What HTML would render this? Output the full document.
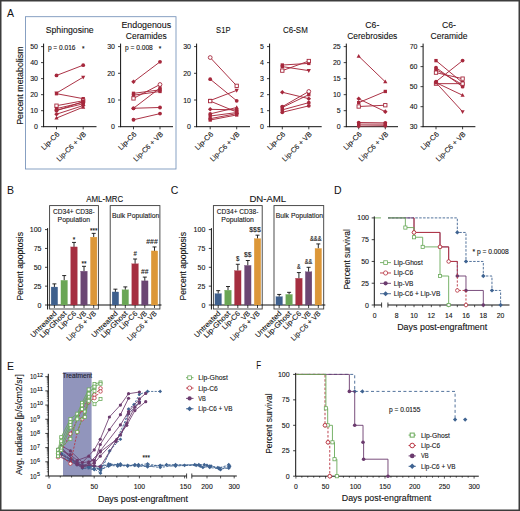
<!DOCTYPE html>
<html><head><meta charset="utf-8"><style>
html,body{margin:0;padding:0;background:#fff;}
svg{display:block;font-family:"Liberation Sans", sans-serif;}
</style></head><body>
<svg width="520" height="511" viewBox="0 0 520 511">
<rect x="0" y="0" width="520" height="511" fill="#fff"/>
<text x="7.00" y="16.60" font-size="10.5" text-anchor="start" fill="#111111">A</text>
<rect x="25.50" y="16.70" width="150.50" height="152.30" fill="none" stroke="#7390b8" stroke-width="0.85"/>
<text x="22.70" y="85.60" font-size="8.2" text-anchor="middle" fill="#111111" textLength="78.50" lengthAdjust="spacingAndGlyphs" transform="rotate(-90 22.70 85.60)" stroke="#111111" stroke-width="0.1">Percent metabolism</text>
<text x="69.70" y="32.70" font-size="9.7" text-anchor="middle" fill="#111111" textLength="48.00" lengthAdjust="spacingAndGlyphs" stroke="#111111" stroke-width="0.1">Sphingosine</text>
<line x1="43.60" y1="43.60" x2="43.60" y2="127.10" stroke="#111111" stroke-width="1.0"/>
<line x1="43.10" y1="126.70" x2="96.50" y2="126.70" stroke="#111111" stroke-width="1.0"/>
<line x1="41.00" y1="126.70" x2="43.60" y2="126.70" stroke="#111111" stroke-width="0.8"/>
<text x="38.00" y="129.20" font-size="7.0" text-anchor="end" fill="#111111" stroke="#111111" stroke-width="0.1">0</text>
<line x1="41.00" y1="110.68" x2="43.60" y2="110.68" stroke="#111111" stroke-width="0.8"/>
<text x="38.00" y="113.18" font-size="7.0" text-anchor="end" fill="#111111" stroke="#111111" stroke-width="0.1">10</text>
<line x1="41.00" y1="94.66" x2="43.60" y2="94.66" stroke="#111111" stroke-width="0.8"/>
<text x="38.00" y="97.16" font-size="7.0" text-anchor="end" fill="#111111" stroke="#111111" stroke-width="0.1">20</text>
<line x1="41.00" y1="78.64" x2="43.60" y2="78.64" stroke="#111111" stroke-width="0.8"/>
<text x="38.00" y="81.14" font-size="7.0" text-anchor="end" fill="#111111" stroke="#111111" stroke-width="0.1">30</text>
<line x1="41.00" y1="62.62" x2="43.60" y2="62.62" stroke="#111111" stroke-width="0.8"/>
<text x="38.00" y="65.12" font-size="7.0" text-anchor="end" fill="#111111" stroke="#111111" stroke-width="0.1">40</text>
<line x1="41.00" y1="46.60" x2="43.60" y2="46.60" stroke="#111111" stroke-width="0.8"/>
<text x="38.00" y="49.10" font-size="7.0" text-anchor="end" fill="#111111" stroke="#111111" stroke-width="0.1">50</text>
<line x1="56.50" y1="126.70" x2="56.50" y2="129.30" stroke="#111111" stroke-width="0.8"/>
<line x1="83.20" y1="126.70" x2="83.20" y2="129.30" stroke="#111111" stroke-width="0.8"/>
<text x="60.00" y="134.70" font-size="7.2" text-anchor="end" fill="#111111" textLength="22.50" lengthAdjust="spacingAndGlyphs" transform="rotate(-45 60.00 134.70)" stroke="#111111" stroke-width="0.1">Lip-C6</text>
<text x="86.70" y="134.70" font-size="7.2" text-anchor="end" fill="#111111" textLength="38.50" lengthAdjust="spacingAndGlyphs" transform="rotate(-45 86.70 134.70)" stroke="#111111" stroke-width="0.1">Lip-C6 + VB</text>
<text x="47.90" y="49.60" font-size="6.3" text-anchor="start" fill="#111111" textLength="27.60" lengthAdjust="spacingAndGlyphs" stroke="#111111" stroke-width="0.1">p = 0.016</text>
<text x="83.20" y="50.80" font-size="6.5" text-anchor="middle" fill="#111111" stroke="#111111" stroke-width="0.1">*</text>
<line x1="56.50" y1="75.44" x2="83.20" y2="65.18" stroke="#a6283c" stroke-width="0.95"/>
<line x1="56.50" y1="93.06" x2="83.20" y2="77.20" stroke="#a6283c" stroke-width="0.95"/>
<line x1="56.50" y1="93.70" x2="83.20" y2="98.67" stroke="#a6283c" stroke-width="0.95"/>
<line x1="56.50" y1="105.71" x2="83.20" y2="100.75" stroke="#a6283c" stroke-width="0.95"/>
<line x1="56.50" y1="108.60" x2="83.20" y2="102.35" stroke="#a6283c" stroke-width="0.95"/>
<line x1="56.50" y1="110.20" x2="83.20" y2="103.79" stroke="#a6283c" stroke-width="0.95"/>
<line x1="56.50" y1="114.20" x2="83.20" y2="105.55" stroke="#a6283c" stroke-width="0.95"/>
<line x1="56.50" y1="118.05" x2="83.20" y2="107.16" stroke="#a6283c" stroke-width="0.95"/>
<line x1="56.50" y1="110.68" x2="83.20" y2="101.55" stroke="#a6283c" stroke-width="0.95"/>
<circle cx="56.50" cy="75.44" r="1.9" fill="#a6283c"/>
<circle cx="83.20" cy="65.18" r="1.9" fill="#a6283c"/>
<polygon points="56.50,95.34 58.59,91.54 54.41,91.54" fill="#a6283c"/>
<polygon points="83.20,79.48 85.29,75.68 81.11,75.68" fill="#a6283c"/>
<rect x="54.83" y="92.03" width="3.34" height="3.34" fill="#a6283c"/>
<rect x="81.53" y="96.99" width="3.34" height="3.34" fill="#a6283c"/>
<rect x="54.83" y="104.04" width="3.34" height="3.34" fill="#fff" stroke="#a6283c" stroke-width="0.9"/>
<rect x="81.53" y="99.08" width="3.34" height="3.34" fill="#fff" stroke="#a6283c" stroke-width="0.9"/>
<rect x="54.83" y="106.93" width="3.34" height="3.34" fill="#a6283c"/>
<rect x="81.53" y="100.68" width="3.34" height="3.34" fill="#a6283c"/>
<circle cx="56.50" cy="110.20" r="1.9" fill="#a6283c"/>
<circle cx="83.20" cy="103.79" r="1.9" fill="#a6283c"/>
<polygon points="56.50,111.92 58.78,114.20 56.50,116.48 54.22,114.20" fill="#a6283c"/>
<polygon points="83.20,103.27 85.48,105.55 83.20,107.83 80.92,105.55" fill="#a6283c"/>
<polygon points="56.50,115.77 58.59,119.57 54.41,119.57" fill="#a6283c"/>
<polygon points="83.20,104.88 85.29,108.68 81.11,108.68" fill="#a6283c"/>
<rect x="54.83" y="109.01" width="3.34" height="3.34" fill="#a6283c"/>
<rect x="81.53" y="99.88" width="3.34" height="3.34" fill="#a6283c"/>
<text x="146.30" y="27.50" font-size="9.7" text-anchor="middle" fill="#111111" textLength="49.70" lengthAdjust="spacingAndGlyphs" stroke="#111111" stroke-width="0.1">Endogenous</text>
<text x="146.30" y="38.50" font-size="9.7" text-anchor="middle" fill="#111111" textLength="41.00" lengthAdjust="spacingAndGlyphs" stroke="#111111" stroke-width="0.1">Ceramides</text>
<line x1="120.60" y1="43.60" x2="120.60" y2="127.10" stroke="#111111" stroke-width="1.0"/>
<line x1="120.10" y1="126.70" x2="173.00" y2="126.70" stroke="#111111" stroke-width="1.0"/>
<line x1="118.00" y1="126.70" x2="120.60" y2="126.70" stroke="#111111" stroke-width="0.8"/>
<text x="115.00" y="129.20" font-size="7.0" text-anchor="end" fill="#111111" stroke="#111111" stroke-width="0.1">0</text>
<line x1="118.00" y1="100.00" x2="120.60" y2="100.00" stroke="#111111" stroke-width="0.8"/>
<text x="115.00" y="102.50" font-size="7.0" text-anchor="end" fill="#111111" stroke="#111111" stroke-width="0.1">10</text>
<line x1="118.00" y1="73.30" x2="120.60" y2="73.30" stroke="#111111" stroke-width="0.8"/>
<text x="115.00" y="75.80" font-size="7.0" text-anchor="end" fill="#111111" stroke="#111111" stroke-width="0.1">20</text>
<line x1="118.00" y1="46.60" x2="120.60" y2="46.60" stroke="#111111" stroke-width="0.8"/>
<text x="115.00" y="49.10" font-size="7.0" text-anchor="end" fill="#111111" stroke="#111111" stroke-width="0.1">30</text>
<line x1="133.50" y1="126.70" x2="133.50" y2="129.30" stroke="#111111" stroke-width="0.8"/>
<line x1="160.00" y1="126.70" x2="160.00" y2="129.30" stroke="#111111" stroke-width="0.8"/>
<text x="137.00" y="134.70" font-size="7.2" text-anchor="end" fill="#111111" textLength="22.50" lengthAdjust="spacingAndGlyphs" transform="rotate(-45 137.00 134.70)" stroke="#111111" stroke-width="0.1">Lip-C6</text>
<text x="163.50" y="134.70" font-size="7.2" text-anchor="end" fill="#111111" textLength="38.50" lengthAdjust="spacingAndGlyphs" transform="rotate(-45 163.50 134.70)" stroke="#111111" stroke-width="0.1">Lip-C6 + VB</text>
<text x="125.00" y="49.60" font-size="6.3" text-anchor="start" fill="#111111" textLength="27.80" lengthAdjust="spacingAndGlyphs" stroke="#111111" stroke-width="0.1">p = 0.008</text>
<text x="160.00" y="50.80" font-size="6.5" text-anchor="middle" fill="#111111" stroke="#111111" stroke-width="0.1">*</text>
<line x1="133.50" y1="81.84" x2="160.00" y2="61.82" stroke="#a6283c" stroke-width="0.95"/>
<line x1="133.50" y1="93.33" x2="160.00" y2="89.85" stroke="#a6283c" stroke-width="0.95"/>
<line x1="133.50" y1="95.19" x2="160.00" y2="91.46" stroke="#a6283c" stroke-width="0.95"/>
<line x1="133.50" y1="98.40" x2="160.00" y2="84.51" stroke="#a6283c" stroke-width="0.95"/>
<line x1="133.50" y1="108.28" x2="160.00" y2="87.99" stroke="#a6283c" stroke-width="0.95"/>
<line x1="133.50" y1="108.28" x2="160.00" y2="107.48" stroke="#a6283c" stroke-width="0.95"/>
<line x1="133.50" y1="119.76" x2="160.00" y2="113.62" stroke="#a6283c" stroke-width="0.95"/>
<polygon points="133.50,79.56 135.78,81.84 133.50,84.12 131.22,81.84" fill="#a6283c"/>
<circle cx="160.00" cy="61.82" r="1.9" fill="#a6283c"/>
<rect x="131.83" y="91.65" width="3.34" height="3.34" fill="#a6283c"/>
<rect x="158.33" y="88.18" width="3.34" height="3.34" fill="#a6283c"/>
<rect x="131.83" y="93.52" width="3.34" height="3.34" fill="#a6283c"/>
<rect x="158.33" y="89.78" width="3.34" height="3.34" fill="#a6283c"/>
<rect x="131.83" y="96.73" width="3.34" height="3.34" fill="#fff" stroke="#a6283c" stroke-width="0.9"/>
<circle cx="160.00" cy="84.51" r="1.9" fill="#fff" stroke="#a6283c" stroke-width="0.9"/>
<circle cx="133.50" cy="108.28" r="1.9" fill="#a6283c"/>
<rect x="158.33" y="86.31" width="3.34" height="3.34" fill="#a6283c"/>
<circle cx="133.50" cy="108.28" r="1.9" fill="#a6283c"/>
<circle cx="160.00" cy="107.48" r="1.9" fill="#a6283c"/>
<circle cx="133.50" cy="119.76" r="1.9" fill="#a6283c"/>
<circle cx="160.00" cy="113.62" r="1.9" fill="#a6283c"/>
<text x="223.30" y="32.70" font-size="9.7" text-anchor="middle" fill="#111111" textLength="14.40" lengthAdjust="spacingAndGlyphs" stroke="#111111" stroke-width="0.1">S1P</text>
<line x1="196.60" y1="43.60" x2="196.60" y2="127.10" stroke="#111111" stroke-width="1.0"/>
<line x1="196.10" y1="126.70" x2="250.00" y2="126.70" stroke="#111111" stroke-width="1.0"/>
<line x1="194.00" y1="126.70" x2="196.60" y2="126.70" stroke="#111111" stroke-width="0.8"/>
<text x="191.00" y="129.20" font-size="7.0" text-anchor="end" fill="#111111" stroke="#111111" stroke-width="0.1">0</text>
<line x1="194.00" y1="100.00" x2="196.60" y2="100.00" stroke="#111111" stroke-width="0.8"/>
<text x="191.00" y="102.50" font-size="7.0" text-anchor="end" fill="#111111" stroke="#111111" stroke-width="0.1">10</text>
<line x1="194.00" y1="73.30" x2="196.60" y2="73.30" stroke="#111111" stroke-width="0.8"/>
<text x="191.00" y="75.80" font-size="7.0" text-anchor="end" fill="#111111" stroke="#111111" stroke-width="0.1">20</text>
<line x1="194.00" y1="46.60" x2="196.60" y2="46.60" stroke="#111111" stroke-width="0.8"/>
<text x="191.00" y="49.10" font-size="7.0" text-anchor="end" fill="#111111" stroke="#111111" stroke-width="0.1">30</text>
<line x1="210.20" y1="126.70" x2="210.20" y2="129.30" stroke="#111111" stroke-width="0.8"/>
<line x1="236.70" y1="126.70" x2="236.70" y2="129.30" stroke="#111111" stroke-width="0.8"/>
<text x="213.70" y="134.70" font-size="7.2" text-anchor="end" fill="#111111" textLength="22.50" lengthAdjust="spacingAndGlyphs" transform="rotate(-45 213.70 134.70)" stroke="#111111" stroke-width="0.1">Lip-C6</text>
<text x="240.20" y="134.70" font-size="7.2" text-anchor="end" fill="#111111" textLength="38.50" lengthAdjust="spacingAndGlyphs" transform="rotate(-45 240.20 134.70)" stroke="#111111" stroke-width="0.1">Lip-C6 + VB</text>
<line x1="210.20" y1="57.55" x2="236.70" y2="85.85" stroke="#a6283c" stroke-width="0.95"/>
<line x1="210.20" y1="79.17" x2="236.70" y2="100.80" stroke="#a6283c" stroke-width="0.95"/>
<line x1="210.20" y1="100.53" x2="236.70" y2="90.39" stroke="#a6283c" stroke-width="0.95"/>
<line x1="210.20" y1="101.07" x2="236.70" y2="112.02" stroke="#a6283c" stroke-width="0.95"/>
<line x1="210.20" y1="109.34" x2="236.70" y2="109.88" stroke="#a6283c" stroke-width="0.95"/>
<line x1="210.20" y1="113.88" x2="236.70" y2="107.48" stroke="#a6283c" stroke-width="0.95"/>
<line x1="210.20" y1="116.02" x2="236.70" y2="112.55" stroke="#a6283c" stroke-width="0.95"/>
<line x1="210.20" y1="118.69" x2="236.70" y2="113.62" stroke="#a6283c" stroke-width="0.95"/>
<line x1="210.20" y1="120.03" x2="236.70" y2="114.95" stroke="#a6283c" stroke-width="0.95"/>
<circle cx="210.20" cy="57.55" r="1.9" fill="#fff" stroke="#a6283c" stroke-width="0.9"/>
<rect x="235.03" y="84.18" width="3.34" height="3.34" fill="#fff" stroke="#a6283c" stroke-width="0.9"/>
<circle cx="210.20" cy="79.17" r="1.9" fill="#a6283c"/>
<circle cx="236.70" cy="100.80" r="1.9" fill="#a6283c"/>
<rect x="208.53" y="98.86" width="3.34" height="3.34" fill="#a6283c"/>
<polygon points="236.70,92.67 238.79,88.87 234.61,88.87" fill="#a6283c"/>
<rect x="208.53" y="99.40" width="3.34" height="3.34" fill="#fff" stroke="#a6283c" stroke-width="0.9"/>
<rect x="235.03" y="110.34" width="3.34" height="3.34" fill="#a6283c"/>
<polygon points="210.20,107.06 212.48,109.34 210.20,111.62 207.92,109.34" fill="#a6283c"/>
<polygon points="236.70,107.60 238.98,109.88 236.70,112.16 234.42,109.88" fill="#a6283c"/>
<circle cx="210.20" cy="113.88" r="1.9" fill="#a6283c"/>
<polygon points="236.70,105.20 238.79,109.00 234.61,109.00" fill="#a6283c"/>
<rect x="208.53" y="114.35" width="3.34" height="3.34" fill="#a6283c"/>
<rect x="235.03" y="110.88" width="3.34" height="3.34" fill="#a6283c"/>
<circle cx="210.20" cy="118.69" r="1.9" fill="#a6283c"/>
<circle cx="236.70" cy="113.62" r="1.9" fill="#a6283c"/>
<rect x="208.53" y="118.35" width="3.34" height="3.34" fill="#a6283c"/>
<rect x="235.03" y="113.28" width="3.34" height="3.34" fill="#a6283c"/>
<text x="295.40" y="32.70" font-size="9.7" text-anchor="middle" fill="#111111" textLength="24.70" lengthAdjust="spacingAndGlyphs" stroke="#111111" stroke-width="0.1">C6-SM</text>
<line x1="269.60" y1="43.60" x2="269.60" y2="127.10" stroke="#111111" stroke-width="1.0"/>
<line x1="269.10" y1="126.70" x2="321.70" y2="126.70" stroke="#111111" stroke-width="1.0"/>
<line x1="267.00" y1="126.70" x2="269.60" y2="126.70" stroke="#111111" stroke-width="0.8"/>
<text x="264.00" y="129.20" font-size="7.0" text-anchor="end" fill="#111111" stroke="#111111" stroke-width="0.1">0</text>
<line x1="267.00" y1="110.68" x2="269.60" y2="110.68" stroke="#111111" stroke-width="0.8"/>
<text x="264.00" y="113.18" font-size="7.0" text-anchor="end" fill="#111111" stroke="#111111" stroke-width="0.1">1</text>
<line x1="267.00" y1="94.66" x2="269.60" y2="94.66" stroke="#111111" stroke-width="0.8"/>
<text x="264.00" y="97.16" font-size="7.0" text-anchor="end" fill="#111111" stroke="#111111" stroke-width="0.1">2</text>
<line x1="267.00" y1="78.64" x2="269.60" y2="78.64" stroke="#111111" stroke-width="0.8"/>
<text x="264.00" y="81.14" font-size="7.0" text-anchor="end" fill="#111111" stroke="#111111" stroke-width="0.1">3</text>
<line x1="267.00" y1="62.62" x2="269.60" y2="62.62" stroke="#111111" stroke-width="0.8"/>
<text x="264.00" y="65.12" font-size="7.0" text-anchor="end" fill="#111111" stroke="#111111" stroke-width="0.1">4</text>
<line x1="267.00" y1="46.60" x2="269.60" y2="46.60" stroke="#111111" stroke-width="0.8"/>
<text x="264.00" y="49.10" font-size="7.0" text-anchor="end" fill="#111111" stroke="#111111" stroke-width="0.1">5</text>
<line x1="282.30" y1="126.70" x2="282.30" y2="129.30" stroke="#111111" stroke-width="0.8"/>
<line x1="308.80" y1="126.70" x2="308.80" y2="129.30" stroke="#111111" stroke-width="0.8"/>
<text x="285.80" y="134.70" font-size="7.2" text-anchor="end" fill="#111111" textLength="22.50" lengthAdjust="spacingAndGlyphs" transform="rotate(-45 285.80 134.70)" stroke="#111111" stroke-width="0.1">Lip-C6</text>
<text x="312.30" y="134.70" font-size="7.2" text-anchor="end" fill="#111111" textLength="38.50" lengthAdjust="spacingAndGlyphs" transform="rotate(-45 312.30 134.70)" stroke="#111111" stroke-width="0.1">Lip-C6 + VB</text>
<line x1="282.30" y1="65.02" x2="308.80" y2="63.42" stroke="#a6283c" stroke-width="0.95"/>
<line x1="282.30" y1="66.62" x2="308.80" y2="70.63" stroke="#a6283c" stroke-width="0.95"/>
<line x1="282.30" y1="70.63" x2="308.80" y2="61.02" stroke="#a6283c" stroke-width="0.95"/>
<line x1="282.30" y1="92.26" x2="308.80" y2="98.67" stroke="#a6283c" stroke-width="0.95"/>
<line x1="282.30" y1="106.68" x2="308.80" y2="91.46" stroke="#a6283c" stroke-width="0.95"/>
<line x1="282.30" y1="107.48" x2="308.80" y2="94.66" stroke="#a6283c" stroke-width="0.95"/>
<line x1="282.30" y1="109.88" x2="308.80" y2="102.67" stroke="#a6283c" stroke-width="0.95"/>
<line x1="282.30" y1="112.28" x2="308.80" y2="105.87" stroke="#a6283c" stroke-width="0.95"/>
<rect x="280.63" y="63.35" width="3.34" height="3.34" fill="#a6283c"/>
<rect x="307.13" y="61.75" width="3.34" height="3.34" fill="#a6283c"/>
<rect x="280.63" y="64.95" width="3.34" height="3.34" fill="#a6283c"/>
<polygon points="308.80,72.91 310.89,69.11 306.71,69.11" fill="#a6283c"/>
<rect x="280.63" y="68.96" width="3.34" height="3.34" fill="#fff" stroke="#a6283c" stroke-width="0.9"/>
<rect x="307.13" y="59.35" width="3.34" height="3.34" fill="#fff" stroke="#a6283c" stroke-width="0.9"/>
<polygon points="282.30,89.98 284.58,92.26 282.30,94.54 280.02,92.26" fill="#a6283c"/>
<polygon points="308.80,96.39 311.08,98.67 308.80,100.95 306.52,98.67" fill="#a6283c"/>
<circle cx="282.30" cy="106.68" r="1.9" fill="#a6283c"/>
<circle cx="308.80" cy="91.46" r="1.9" fill="#fff" stroke="#a6283c" stroke-width="0.9"/>
<rect x="280.63" y="105.80" width="3.34" height="3.34" fill="#a6283c"/>
<rect x="307.13" y="92.99" width="3.34" height="3.34" fill="#a6283c"/>
<circle cx="282.30" cy="109.88" r="1.9" fill="#a6283c"/>
<circle cx="308.80" cy="102.67" r="1.9" fill="#a6283c"/>
<circle cx="282.30" cy="112.28" r="1.9" fill="#a6283c"/>
<circle cx="308.80" cy="105.87" r="1.9" fill="#a6283c"/>
<text x="372.30" y="27.50" font-size="9.7" text-anchor="middle" fill="#111111" textLength="14.00" lengthAdjust="spacingAndGlyphs" stroke="#111111" stroke-width="0.1">C6-</text>
<text x="372.30" y="38.50" font-size="9.7" text-anchor="middle" fill="#111111" textLength="50.00" lengthAdjust="spacingAndGlyphs" stroke="#111111" stroke-width="0.1">Cerebrosides</text>
<line x1="346.30" y1="43.60" x2="346.30" y2="127.10" stroke="#111111" stroke-width="1.0"/>
<line x1="345.80" y1="126.70" x2="398.00" y2="126.70" stroke="#111111" stroke-width="1.0"/>
<line x1="343.70" y1="126.70" x2="346.30" y2="126.70" stroke="#111111" stroke-width="0.8"/>
<text x="340.70" y="129.20" font-size="7.0" text-anchor="end" fill="#111111" stroke="#111111" stroke-width="0.1">0</text>
<line x1="343.70" y1="110.68" x2="346.30" y2="110.68" stroke="#111111" stroke-width="0.8"/>
<text x="340.70" y="113.18" font-size="7.0" text-anchor="end" fill="#111111" stroke="#111111" stroke-width="0.1">5</text>
<line x1="343.70" y1="94.66" x2="346.30" y2="94.66" stroke="#111111" stroke-width="0.8"/>
<text x="340.70" y="97.16" font-size="7.0" text-anchor="end" fill="#111111" stroke="#111111" stroke-width="0.1">10</text>
<line x1="343.70" y1="78.64" x2="346.30" y2="78.64" stroke="#111111" stroke-width="0.8"/>
<text x="340.70" y="81.14" font-size="7.0" text-anchor="end" fill="#111111" stroke="#111111" stroke-width="0.1">15</text>
<line x1="343.70" y1="62.62" x2="346.30" y2="62.62" stroke="#111111" stroke-width="0.8"/>
<text x="340.70" y="65.12" font-size="7.0" text-anchor="end" fill="#111111" stroke="#111111" stroke-width="0.1">20</text>
<line x1="343.70" y1="46.60" x2="346.30" y2="46.60" stroke="#111111" stroke-width="0.8"/>
<text x="340.70" y="49.10" font-size="7.0" text-anchor="end" fill="#111111" stroke="#111111" stroke-width="0.1">25</text>
<line x1="358.70" y1="126.70" x2="358.70" y2="129.30" stroke="#111111" stroke-width="0.8"/>
<line x1="385.30" y1="126.70" x2="385.30" y2="129.30" stroke="#111111" stroke-width="0.8"/>
<text x="362.20" y="134.70" font-size="7.2" text-anchor="end" fill="#111111" textLength="22.50" lengthAdjust="spacingAndGlyphs" transform="rotate(-45 362.20 134.70)" stroke="#111111" stroke-width="0.1">Lip-C6</text>
<text x="388.80" y="134.70" font-size="7.2" text-anchor="end" fill="#111111" textLength="38.50" lengthAdjust="spacingAndGlyphs" transform="rotate(-45 388.80 134.70)" stroke="#111111" stroke-width="0.1">Lip-C6 + VB</text>
<line x1="358.70" y1="56.21" x2="385.30" y2="81.84" stroke="#a6283c" stroke-width="0.95"/>
<line x1="358.70" y1="98.83" x2="385.30" y2="111.64" stroke="#a6283c" stroke-width="0.95"/>
<line x1="358.70" y1="102.67" x2="385.30" y2="91.46" stroke="#a6283c" stroke-width="0.95"/>
<line x1="358.70" y1="106.51" x2="385.30" y2="105.23" stroke="#a6283c" stroke-width="0.95"/>
<line x1="358.70" y1="122.53" x2="385.30" y2="122.86" stroke="#a6283c" stroke-width="0.95"/>
<line x1="358.70" y1="124.14" x2="385.30" y2="124.14" stroke="#a6283c" stroke-width="0.95"/>
<line x1="358.70" y1="126.06" x2="385.30" y2="125.74" stroke="#a6283c" stroke-width="0.95"/>
<polygon points="358.70,53.93 360.79,57.73 356.61,57.73" fill="#a6283c"/>
<polygon points="385.30,79.56 387.39,83.36 383.21,83.36" fill="#a6283c"/>
<polygon points="358.70,96.55 360.98,98.83 358.70,101.11 356.42,98.83" fill="#a6283c"/>
<polygon points="385.30,109.36 387.58,111.64 385.30,113.92 383.02,111.64" fill="#a6283c"/>
<rect x="357.03" y="101.00" width="3.34" height="3.34" fill="#a6283c"/>
<rect x="383.63" y="89.78" width="3.34" height="3.34" fill="#a6283c"/>
<rect x="357.03" y="104.84" width="3.34" height="3.34" fill="#fff" stroke="#a6283c" stroke-width="0.9"/>
<rect x="383.63" y="103.56" width="3.34" height="3.34" fill="#fff" stroke="#a6283c" stroke-width="0.9"/>
<circle cx="358.70" cy="122.53" r="1.9" fill="#a6283c"/>
<circle cx="385.30" cy="122.86" r="1.9" fill="#a6283c"/>
<rect x="357.03" y="122.46" width="3.34" height="3.34" fill="#a6283c"/>
<rect x="383.63" y="122.46" width="3.34" height="3.34" fill="#a6283c"/>
<circle cx="358.70" cy="126.06" r="1.9" fill="#a6283c"/>
<circle cx="385.30" cy="125.74" r="1.9" fill="#a6283c"/>
<text x="449.00" y="27.50" font-size="9.7" text-anchor="middle" fill="#111111" textLength="14.00" lengthAdjust="spacingAndGlyphs" stroke="#111111" stroke-width="0.1">C6-</text>
<text x="449.00" y="38.50" font-size="9.7" text-anchor="middle" fill="#111111" textLength="37.00" lengthAdjust="spacingAndGlyphs" stroke="#111111" stroke-width="0.1">Ceramide</text>
<line x1="423.10" y1="43.60" x2="423.10" y2="127.10" stroke="#111111" stroke-width="1.0"/>
<line x1="422.60" y1="126.70" x2="475.40" y2="126.70" stroke="#111111" stroke-width="1.0"/>
<line x1="420.50" y1="126.70" x2="423.10" y2="126.70" stroke="#111111" stroke-width="0.8"/>
<text x="417.50" y="129.20" font-size="7.0" text-anchor="end" fill="#111111" stroke="#111111" stroke-width="0.1">30</text>
<line x1="420.50" y1="106.68" x2="423.10" y2="106.68" stroke="#111111" stroke-width="0.8"/>
<text x="417.50" y="109.18" font-size="7.0" text-anchor="end" fill="#111111" stroke="#111111" stroke-width="0.1">40</text>
<line x1="420.50" y1="86.65" x2="423.10" y2="86.65" stroke="#111111" stroke-width="0.8"/>
<text x="417.50" y="89.15" font-size="7.0" text-anchor="end" fill="#111111" stroke="#111111" stroke-width="0.1">50</text>
<line x1="420.50" y1="66.62" x2="423.10" y2="66.62" stroke="#111111" stroke-width="0.8"/>
<text x="417.50" y="69.12" font-size="7.0" text-anchor="end" fill="#111111" stroke="#111111" stroke-width="0.1">60</text>
<line x1="420.50" y1="46.60" x2="423.10" y2="46.60" stroke="#111111" stroke-width="0.8"/>
<text x="417.50" y="49.10" font-size="7.0" text-anchor="end" fill="#111111" stroke="#111111" stroke-width="0.1">70</text>
<line x1="436.00" y1="126.70" x2="436.00" y2="129.30" stroke="#111111" stroke-width="0.8"/>
<line x1="462.60" y1="126.70" x2="462.60" y2="129.30" stroke="#111111" stroke-width="0.8"/>
<text x="439.50" y="134.70" font-size="7.2" text-anchor="end" fill="#111111" textLength="22.50" lengthAdjust="spacingAndGlyphs" transform="rotate(-45 439.50 134.70)" stroke="#111111" stroke-width="0.1">Lip-C6</text>
<text x="466.10" y="134.70" font-size="7.2" text-anchor="end" fill="#111111" textLength="38.50" lengthAdjust="spacingAndGlyphs" transform="rotate(-45 466.10 134.70)" stroke="#111111" stroke-width="0.1">Lip-C6 + VB</text>
<line x1="436.00" y1="60.62" x2="462.60" y2="82.65" stroke="#a6283c" stroke-width="0.95"/>
<line x1="436.00" y1="67.63" x2="462.60" y2="86.65" stroke="#a6283c" stroke-width="0.95"/>
<line x1="436.00" y1="69.63" x2="462.60" y2="84.65" stroke="#a6283c" stroke-width="0.95"/>
<line x1="436.00" y1="72.63" x2="462.60" y2="78.64" stroke="#a6283c" stroke-width="0.95"/>
<line x1="436.00" y1="81.64" x2="462.60" y2="60.62" stroke="#a6283c" stroke-width="0.95"/>
<line x1="436.00" y1="82.65" x2="462.60" y2="95.26" stroke="#a6283c" stroke-width="0.95"/>
<line x1="436.00" y1="83.65" x2="462.60" y2="83.65" stroke="#a6283c" stroke-width="0.95"/>
<line x1="436.00" y1="82.65" x2="462.60" y2="111.68" stroke="#a6283c" stroke-width="0.95"/>
<rect x="434.33" y="58.95" width="3.34" height="3.34" fill="#a6283c"/>
<rect x="460.93" y="80.97" width="3.34" height="3.34" fill="#a6283c"/>
<circle cx="436.00" cy="67.63" r="1.9" fill="#a6283c"/>
<circle cx="462.60" cy="86.65" r="1.9" fill="#a6283c"/>
<circle cx="436.00" cy="69.63" r="1.9" fill="#a6283c"/>
<circle cx="462.60" cy="84.65" r="1.9" fill="#a6283c"/>
<rect x="434.33" y="70.96" width="3.34" height="3.34" fill="#fff" stroke="#a6283c" stroke-width="0.9"/>
<rect x="460.93" y="76.97" width="3.34" height="3.34" fill="#fff" stroke="#a6283c" stroke-width="0.9"/>
<circle cx="436.00" cy="81.64" r="1.9" fill="#a6283c"/>
<circle cx="462.60" cy="60.62" r="1.9" fill="#a6283c"/>
<circle cx="436.00" cy="82.65" r="1.9" fill="#a6283c"/>
<polygon points="462.60,92.98 464.69,96.78 460.51,96.78" fill="#a6283c"/>
<rect x="434.33" y="81.97" width="3.34" height="3.34" fill="#fff" stroke="#a6283c" stroke-width="0.9"/>
<rect x="460.93" y="81.97" width="3.34" height="3.34" fill="#fff" stroke="#a6283c" stroke-width="0.9"/>
<circle cx="436.00" cy="82.65" r="1.9" fill="#a6283c"/>
<polygon points="462.60,113.96 464.69,110.16 460.51,110.16" fill="#a6283c"/>
<text x="7.00" y="194.30" font-size="10.5" text-anchor="start" fill="#111111">B</text>
<text x="104.70" y="201.90" font-size="9.9" text-anchor="middle" fill="#111111" textLength="36.80" lengthAdjust="spacingAndGlyphs" stroke="#111111" stroke-width="0.1">AML-MRC</text>
<text x="22.60" y="266.30" font-size="8.6" text-anchor="middle" fill="#111111" textLength="68.50" lengthAdjust="spacingAndGlyphs" transform="rotate(-90 22.60 266.30)" stroke="#111111" stroke-width="0.1">Percent apoptosis</text>
<line x1="47.60" y1="228.10" x2="47.60" y2="309.50" stroke="#111111" stroke-width="1.0"/>
<line x1="45.00" y1="305.00" x2="47.60" y2="305.00" stroke="#111111" stroke-width="0.8"/>
<text x="41.50" y="307.50" font-size="7.0" text-anchor="end" fill="#111111" stroke="#111111" stroke-width="0.1">0</text>
<line x1="45.00" y1="286.15" x2="47.60" y2="286.15" stroke="#111111" stroke-width="0.8"/>
<text x="41.50" y="288.65" font-size="7.0" text-anchor="end" fill="#111111" stroke="#111111" stroke-width="0.1">25</text>
<line x1="45.00" y1="267.30" x2="47.60" y2="267.30" stroke="#111111" stroke-width="0.8"/>
<text x="41.50" y="269.80" font-size="7.0" text-anchor="end" fill="#111111" stroke="#111111" stroke-width="0.1">50</text>
<line x1="45.00" y1="248.45" x2="47.60" y2="248.45" stroke="#111111" stroke-width="0.8"/>
<text x="41.50" y="250.95" font-size="7.0" text-anchor="end" fill="#111111" stroke="#111111" stroke-width="0.1">75</text>
<line x1="45.00" y1="229.60" x2="47.60" y2="229.60" stroke="#111111" stroke-width="0.8"/>
<text x="41.50" y="232.10" font-size="7.0" text-anchor="end" fill="#111111" stroke="#111111" stroke-width="0.1">100</text>
<rect x="49.60" y="205.60" width="48.80" height="103.40" fill="none" stroke="#3a3a3a" stroke-width="0.9"/>
<rect x="110.20" y="205.60" width="49.70" height="103.40" fill="none" stroke="#3a3a3a" stroke-width="0.9"/>
<line x1="47.60" y1="305.00" x2="161.50" y2="305.00" stroke="#111111" stroke-width="1.0"/>
<text x="73.80" y="213.80" font-size="7.3" text-anchor="middle" fill="#111111" textLength="41.60" lengthAdjust="spacingAndGlyphs" stroke="#111111" stroke-width="0.1">CD34+ CD38-</text>
<text x="73.80" y="222.00" font-size="7.3" text-anchor="middle" fill="#111111" textLength="32.50" lengthAdjust="spacingAndGlyphs" stroke="#111111" stroke-width="0.1">Population</text>
<text x="135.60" y="218.20" font-size="7.3" text-anchor="middle" fill="#111111" textLength="47.20" lengthAdjust="spacingAndGlyphs" stroke="#111111" stroke-width="0.1">Bulk Population</text>
<line x1="54.40" y1="283.89" x2="54.40" y2="287.05" stroke="#111111" stroke-width="0.9"/>
<line x1="52.40" y1="283.89" x2="56.40" y2="283.89" stroke="#111111" stroke-width="0.9"/>
<rect x="51.15" y="287.05" width="6.50" height="17.95" fill="#3e5f8c" stroke="#3e5f8c" stroke-width="0.3"/>
<line x1="54.40" y1="305.00" x2="54.40" y2="308.00" stroke="#111111" stroke-width="0.8"/>
<text x="57.20" y="314.00" font-size="7.3" text-anchor="end" fill="#111111" textLength="34.00" lengthAdjust="spacingAndGlyphs" transform="rotate(-45 57.20 314.00)" stroke="#111111" stroke-width="0.1">Untreated</text>
<line x1="64.20" y1="275.59" x2="64.20" y2="280.34" stroke="#111111" stroke-width="0.9"/>
<line x1="62.20" y1="275.59" x2="66.20" y2="275.59" stroke="#111111" stroke-width="0.9"/>
<rect x="60.95" y="280.34" width="6.50" height="24.66" fill="#6aa655" stroke="#6aa655" stroke-width="0.3"/>
<line x1="64.20" y1="305.00" x2="64.20" y2="308.00" stroke="#111111" stroke-width="0.8"/>
<text x="67.00" y="314.00" font-size="7.3" text-anchor="end" fill="#111111" textLength="34.50" lengthAdjust="spacingAndGlyphs" transform="rotate(-45 67.00 314.00)" stroke="#111111" stroke-width="0.1">Lip-Ghost</text>
<line x1="74.00" y1="242.42" x2="74.00" y2="246.94" stroke="#111111" stroke-width="0.9"/>
<line x1="72.00" y1="242.42" x2="76.00" y2="242.42" stroke="#111111" stroke-width="0.9"/>
<rect x="70.75" y="246.94" width="6.50" height="58.06" fill="#a52e40" stroke="#a52e40" stroke-width="0.3"/>
<line x1="74.00" y1="305.00" x2="74.00" y2="308.00" stroke="#111111" stroke-width="0.8"/>
<text x="76.80" y="314.00" font-size="7.3" text-anchor="end" fill="#111111" textLength="22.50" lengthAdjust="spacingAndGlyphs" transform="rotate(-45 76.80 314.00)" stroke="#111111" stroke-width="0.1">Lip-C6</text>
<text x="74.00" y="242.22" font-size="6.5" text-anchor="middle" fill="#111111" stroke="#111111" stroke-width="0.1">*</text>
<line x1="84.00" y1="266.32" x2="84.00" y2="271.22" stroke="#111111" stroke-width="0.9"/>
<line x1="82.00" y1="266.32" x2="86.00" y2="266.32" stroke="#111111" stroke-width="0.9"/>
<rect x="80.75" y="271.22" width="6.50" height="33.78" fill="#6b4673" stroke="#6b4673" stroke-width="0.3"/>
<line x1="84.00" y1="305.00" x2="84.00" y2="308.00" stroke="#111111" stroke-width="0.8"/>
<text x="86.80" y="314.00" font-size="7.3" text-anchor="end" fill="#111111" textLength="9.50" lengthAdjust="spacingAndGlyphs" transform="rotate(-45 86.80 314.00)" stroke="#111111" stroke-width="0.1">VB</text>
<text x="84.00" y="266.12" font-size="6.5" text-anchor="middle" fill="#111111" stroke="#111111" stroke-width="0.1">**</text>
<line x1="93.70" y1="233.37" x2="93.70" y2="237.14" stroke="#111111" stroke-width="0.9"/>
<line x1="91.70" y1="233.37" x2="95.70" y2="233.37" stroke="#111111" stroke-width="0.9"/>
<rect x="90.45" y="237.14" width="6.50" height="67.86" fill="#dc9738" stroke="#dc9738" stroke-width="0.3"/>
<line x1="93.70" y1="305.00" x2="93.70" y2="308.00" stroke="#111111" stroke-width="0.8"/>
<text x="96.50" y="314.00" font-size="7.3" text-anchor="end" fill="#111111" textLength="38.50" lengthAdjust="spacingAndGlyphs" transform="rotate(-45 96.50 314.00)" stroke="#111111" stroke-width="0.1">Lip-C6 + VB</text>
<text x="93.70" y="233.17" font-size="6.5" text-anchor="middle" fill="#111111" stroke="#111111" stroke-width="0.1">***</text>
<line x1="115.40" y1="289.17" x2="115.40" y2="291.96" stroke="#111111" stroke-width="0.9"/>
<line x1="113.40" y1="289.17" x2="117.40" y2="289.17" stroke="#111111" stroke-width="0.9"/>
<rect x="112.15" y="291.96" width="6.50" height="13.04" fill="#3e5f8c" stroke="#3e5f8c" stroke-width="0.3"/>
<line x1="115.40" y1="305.00" x2="115.40" y2="308.00" stroke="#111111" stroke-width="0.8"/>
<text x="118.20" y="314.00" font-size="7.3" text-anchor="end" fill="#111111" textLength="34.00" lengthAdjust="spacingAndGlyphs" transform="rotate(-45 118.20 314.00)" stroke="#111111" stroke-width="0.1">Untreated</text>
<line x1="125.30" y1="286.90" x2="125.30" y2="289.84" stroke="#111111" stroke-width="0.9"/>
<line x1="123.30" y1="286.90" x2="127.30" y2="286.90" stroke="#111111" stroke-width="0.9"/>
<rect x="122.05" y="289.84" width="6.50" height="15.16" fill="#6aa655" stroke="#6aa655" stroke-width="0.3"/>
<line x1="125.30" y1="305.00" x2="125.30" y2="308.00" stroke="#111111" stroke-width="0.8"/>
<text x="128.10" y="314.00" font-size="7.3" text-anchor="end" fill="#111111" textLength="34.50" lengthAdjust="spacingAndGlyphs" transform="rotate(-45 128.10 314.00)" stroke="#111111" stroke-width="0.1">Lip-Ghost</text>
<line x1="135.10" y1="259.01" x2="135.10" y2="263.83" stroke="#111111" stroke-width="0.9"/>
<line x1="133.10" y1="259.01" x2="137.10" y2="259.01" stroke="#111111" stroke-width="0.9"/>
<rect x="131.85" y="263.83" width="6.50" height="41.17" fill="#a52e40" stroke="#a52e40" stroke-width="0.3"/>
<line x1="135.10" y1="305.00" x2="135.10" y2="308.00" stroke="#111111" stroke-width="0.8"/>
<text x="137.90" y="314.00" font-size="7.3" text-anchor="end" fill="#111111" textLength="22.50" lengthAdjust="spacingAndGlyphs" transform="rotate(-45 137.90 314.00)" stroke="#111111" stroke-width="0.1">Lip-C6</text>
<text x="135.10" y="255.81" font-size="7.4" text-anchor="middle" fill="#111111" textLength="3.40" lengthAdjust="spacingAndGlyphs" stroke="#111111" stroke-width="0.1">#</text>
<line x1="144.80" y1="277.10" x2="144.80" y2="280.87" stroke="#111111" stroke-width="0.9"/>
<line x1="142.80" y1="277.10" x2="146.80" y2="277.10" stroke="#111111" stroke-width="0.9"/>
<rect x="141.55" y="280.87" width="6.50" height="24.13" fill="#6b4673" stroke="#6b4673" stroke-width="0.3"/>
<line x1="144.80" y1="305.00" x2="144.80" y2="308.00" stroke="#111111" stroke-width="0.8"/>
<text x="147.60" y="314.00" font-size="7.3" text-anchor="end" fill="#111111" textLength="9.50" lengthAdjust="spacingAndGlyphs" transform="rotate(-45 147.60 314.00)" stroke="#111111" stroke-width="0.1">VB</text>
<text x="144.80" y="273.90" font-size="7.4" text-anchor="middle" fill="#111111" textLength="7.40" lengthAdjust="spacingAndGlyphs" stroke="#111111" stroke-width="0.1">##</text>
<line x1="154.50" y1="246.94" x2="154.50" y2="250.94" stroke="#111111" stroke-width="0.9"/>
<line x1="152.50" y1="246.94" x2="156.50" y2="246.94" stroke="#111111" stroke-width="0.9"/>
<rect x="151.25" y="250.94" width="6.50" height="54.06" fill="#dc9738" stroke="#dc9738" stroke-width="0.3"/>
<line x1="154.50" y1="305.00" x2="154.50" y2="308.00" stroke="#111111" stroke-width="0.8"/>
<text x="157.30" y="314.00" font-size="7.3" text-anchor="end" fill="#111111" textLength="38.50" lengthAdjust="spacingAndGlyphs" transform="rotate(-45 157.30 314.00)" stroke="#111111" stroke-width="0.1">Lip-C6 + VB</text>
<text x="152.00" y="243.74" font-size="7.4" text-anchor="middle" fill="#111111" textLength="11.40" lengthAdjust="spacingAndGlyphs" stroke="#111111" stroke-width="0.1">###</text>
<text x="170.80" y="194.30" font-size="10.5" text-anchor="start" fill="#111111">C</text>
<text x="267.80" y="201.90" font-size="9.9" text-anchor="middle" fill="#111111" textLength="36.80" lengthAdjust="spacingAndGlyphs" stroke="#111111" stroke-width="0.1">DN-AML</text>
<text x="186.40" y="266.30" font-size="8.6" text-anchor="middle" fill="#111111" textLength="68.50" lengthAdjust="spacingAndGlyphs" transform="rotate(-90 186.40 266.30)" stroke="#111111" stroke-width="0.1">Percent apoptosis</text>
<line x1="211.40" y1="228.10" x2="211.40" y2="309.50" stroke="#111111" stroke-width="1.0"/>
<line x1="208.80" y1="305.00" x2="211.40" y2="305.00" stroke="#111111" stroke-width="0.8"/>
<text x="205.30" y="307.50" font-size="7.0" text-anchor="end" fill="#111111" stroke="#111111" stroke-width="0.1">0</text>
<line x1="208.80" y1="286.15" x2="211.40" y2="286.15" stroke="#111111" stroke-width="0.8"/>
<text x="205.30" y="288.65" font-size="7.0" text-anchor="end" fill="#111111" stroke="#111111" stroke-width="0.1">25</text>
<line x1="208.80" y1="267.30" x2="211.40" y2="267.30" stroke="#111111" stroke-width="0.8"/>
<text x="205.30" y="269.80" font-size="7.0" text-anchor="end" fill="#111111" stroke="#111111" stroke-width="0.1">50</text>
<line x1="208.80" y1="248.45" x2="211.40" y2="248.45" stroke="#111111" stroke-width="0.8"/>
<text x="205.30" y="250.95" font-size="7.0" text-anchor="end" fill="#111111" stroke="#111111" stroke-width="0.1">75</text>
<line x1="208.80" y1="229.60" x2="211.40" y2="229.60" stroke="#111111" stroke-width="0.8"/>
<text x="205.30" y="232.10" font-size="7.0" text-anchor="end" fill="#111111" stroke="#111111" stroke-width="0.1">100</text>
<rect x="213.40" y="205.60" width="48.80" height="103.40" fill="none" stroke="#3a3a3a" stroke-width="0.9"/>
<rect x="274.00" y="205.60" width="49.70" height="103.40" fill="none" stroke="#3a3a3a" stroke-width="0.9"/>
<line x1="211.40" y1="305.00" x2="325.30" y2="305.00" stroke="#111111" stroke-width="1.0"/>
<text x="237.60" y="213.80" font-size="7.3" text-anchor="middle" fill="#111111" textLength="41.60" lengthAdjust="spacingAndGlyphs" stroke="#111111" stroke-width="0.1">CD34+ CD38-</text>
<text x="237.60" y="222.00" font-size="7.3" text-anchor="middle" fill="#111111" textLength="32.50" lengthAdjust="spacingAndGlyphs" stroke="#111111" stroke-width="0.1">Population</text>
<text x="299.40" y="218.20" font-size="7.3" text-anchor="middle" fill="#111111" textLength="47.20" lengthAdjust="spacingAndGlyphs" stroke="#111111" stroke-width="0.1">Bulk Population</text>
<line x1="218.20" y1="290.67" x2="218.20" y2="293.69" stroke="#111111" stroke-width="0.9"/>
<line x1="216.20" y1="290.67" x2="220.20" y2="290.67" stroke="#111111" stroke-width="0.9"/>
<rect x="214.95" y="293.69" width="6.50" height="11.31" fill="#3e5f8c" stroke="#3e5f8c" stroke-width="0.3"/>
<line x1="218.20" y1="305.00" x2="218.20" y2="308.00" stroke="#111111" stroke-width="0.8"/>
<text x="221.00" y="314.00" font-size="7.3" text-anchor="end" fill="#111111" textLength="34.00" lengthAdjust="spacingAndGlyphs" transform="rotate(-45 221.00 314.00)" stroke="#111111" stroke-width="0.1">Untreated</text>
<line x1="228.00" y1="286.53" x2="228.00" y2="290.22" stroke="#111111" stroke-width="0.9"/>
<line x1="226.00" y1="286.53" x2="230.00" y2="286.53" stroke="#111111" stroke-width="0.9"/>
<rect x="224.75" y="290.22" width="6.50" height="14.78" fill="#6aa655" stroke="#6aa655" stroke-width="0.3"/>
<line x1="228.00" y1="305.00" x2="228.00" y2="308.00" stroke="#111111" stroke-width="0.8"/>
<text x="230.80" y="314.00" font-size="7.3" text-anchor="end" fill="#111111" textLength="34.50" lengthAdjust="spacingAndGlyphs" transform="rotate(-45 230.80 314.00)" stroke="#111111" stroke-width="0.1">Lip-Ghost</text>
<line x1="237.80" y1="264.28" x2="237.80" y2="270.69" stroke="#111111" stroke-width="0.9"/>
<line x1="235.80" y1="264.28" x2="239.80" y2="264.28" stroke="#111111" stroke-width="0.9"/>
<rect x="234.55" y="270.69" width="6.50" height="34.31" fill="#a52e40" stroke="#a52e40" stroke-width="0.3"/>
<line x1="237.80" y1="305.00" x2="237.80" y2="308.00" stroke="#111111" stroke-width="0.8"/>
<text x="240.60" y="314.00" font-size="7.3" text-anchor="end" fill="#111111" textLength="22.50" lengthAdjust="spacingAndGlyphs" transform="rotate(-45 240.60 314.00)" stroke="#111111" stroke-width="0.1">Lip-C6</text>
<text x="237.80" y="261.08" font-size="7.4" text-anchor="middle" fill="#111111" textLength="3.40" lengthAdjust="spacingAndGlyphs" stroke="#111111" stroke-width="0.1">$</text>
<line x1="247.80" y1="260.51" x2="247.80" y2="265.41" stroke="#111111" stroke-width="0.9"/>
<line x1="245.80" y1="260.51" x2="249.80" y2="260.51" stroke="#111111" stroke-width="0.9"/>
<rect x="244.55" y="265.41" width="6.50" height="39.59" fill="#6b4673" stroke="#6b4673" stroke-width="0.3"/>
<line x1="247.80" y1="305.00" x2="247.80" y2="308.00" stroke="#111111" stroke-width="0.8"/>
<text x="250.60" y="314.00" font-size="7.3" text-anchor="end" fill="#111111" textLength="9.50" lengthAdjust="spacingAndGlyphs" transform="rotate(-45 250.60 314.00)" stroke="#111111" stroke-width="0.1">VB</text>
<text x="247.80" y="257.31" font-size="7.4" text-anchor="middle" fill="#111111" textLength="7.40" lengthAdjust="spacingAndGlyphs" stroke="#111111" stroke-width="0.1">$$</text>
<line x1="257.50" y1="235.18" x2="257.50" y2="238.65" stroke="#111111" stroke-width="0.9"/>
<line x1="255.50" y1="235.18" x2="259.50" y2="235.18" stroke="#111111" stroke-width="0.9"/>
<rect x="254.25" y="238.65" width="6.50" height="66.35" fill="#dc9738" stroke="#dc9738" stroke-width="0.3"/>
<line x1="257.50" y1="305.00" x2="257.50" y2="308.00" stroke="#111111" stroke-width="0.8"/>
<text x="260.30" y="314.00" font-size="7.3" text-anchor="end" fill="#111111" textLength="38.50" lengthAdjust="spacingAndGlyphs" transform="rotate(-45 260.30 314.00)" stroke="#111111" stroke-width="0.1">Lip-C6 + VB</text>
<text x="255.00" y="231.98" font-size="7.4" text-anchor="middle" fill="#111111" textLength="11.40" lengthAdjust="spacingAndGlyphs" stroke="#111111" stroke-width="0.1">$$$</text>
<line x1="279.20" y1="294.44" x2="279.20" y2="296.71" stroke="#111111" stroke-width="0.9"/>
<line x1="277.20" y1="294.44" x2="281.20" y2="294.44" stroke="#111111" stroke-width="0.9"/>
<rect x="275.95" y="296.71" width="6.50" height="8.29" fill="#3e5f8c" stroke="#3e5f8c" stroke-width="0.3"/>
<line x1="279.20" y1="305.00" x2="279.20" y2="308.00" stroke="#111111" stroke-width="0.8"/>
<text x="282.00" y="314.00" font-size="7.3" text-anchor="end" fill="#111111" textLength="34.00" lengthAdjust="spacingAndGlyphs" transform="rotate(-45 282.00 314.00)" stroke="#111111" stroke-width="0.1">Untreated</text>
<line x1="289.10" y1="292.33" x2="289.10" y2="294.44" stroke="#111111" stroke-width="0.9"/>
<line x1="287.10" y1="292.33" x2="291.10" y2="292.33" stroke="#111111" stroke-width="0.9"/>
<rect x="285.85" y="294.44" width="6.50" height="10.56" fill="#6aa655" stroke="#6aa655" stroke-width="0.3"/>
<line x1="289.10" y1="305.00" x2="289.10" y2="308.00" stroke="#111111" stroke-width="0.8"/>
<text x="291.90" y="314.00" font-size="7.3" text-anchor="end" fill="#111111" textLength="34.50" lengthAdjust="spacingAndGlyphs" transform="rotate(-45 291.90 314.00)" stroke="#111111" stroke-width="0.1">Lip-Ghost</text>
<line x1="298.90" y1="272.58" x2="298.90" y2="278.31" stroke="#111111" stroke-width="0.9"/>
<line x1="296.90" y1="272.58" x2="300.90" y2="272.58" stroke="#111111" stroke-width="0.9"/>
<rect x="295.65" y="278.31" width="6.50" height="26.69" fill="#a52e40" stroke="#a52e40" stroke-width="0.3"/>
<line x1="298.90" y1="305.00" x2="298.90" y2="308.00" stroke="#111111" stroke-width="0.8"/>
<text x="301.70" y="314.00" font-size="7.3" text-anchor="end" fill="#111111" textLength="22.50" lengthAdjust="spacingAndGlyphs" transform="rotate(-45 301.70 314.00)" stroke="#111111" stroke-width="0.1">Lip-C6</text>
<text x="298.90" y="269.38" font-size="7.4" text-anchor="middle" fill="#111111" textLength="3.60" lengthAdjust="spacingAndGlyphs" stroke="#111111" stroke-width="0.1">&amp;</text>
<line x1="308.60" y1="267.30" x2="308.60" y2="271.82" stroke="#111111" stroke-width="0.9"/>
<line x1="306.60" y1="267.30" x2="310.60" y2="267.30" stroke="#111111" stroke-width="0.9"/>
<rect x="305.35" y="271.82" width="6.50" height="33.18" fill="#6b4673" stroke="#6b4673" stroke-width="0.3"/>
<line x1="308.60" y1="305.00" x2="308.60" y2="308.00" stroke="#111111" stroke-width="0.8"/>
<text x="311.40" y="314.00" font-size="7.3" text-anchor="end" fill="#111111" textLength="9.50" lengthAdjust="spacingAndGlyphs" transform="rotate(-45 311.40 314.00)" stroke="#111111" stroke-width="0.1">VB</text>
<text x="308.60" y="264.10" font-size="7.4" text-anchor="middle" fill="#111111" textLength="7.60" lengthAdjust="spacingAndGlyphs" stroke="#111111" stroke-width="0.1">&amp;&amp;</text>
<line x1="318.30" y1="243.93" x2="318.30" y2="248.45" stroke="#111111" stroke-width="0.9"/>
<line x1="316.30" y1="243.93" x2="320.30" y2="243.93" stroke="#111111" stroke-width="0.9"/>
<rect x="315.05" y="248.45" width="6.50" height="56.55" fill="#dc9738" stroke="#dc9738" stroke-width="0.3"/>
<line x1="318.30" y1="305.00" x2="318.30" y2="308.00" stroke="#111111" stroke-width="0.8"/>
<text x="321.10" y="314.00" font-size="7.3" text-anchor="end" fill="#111111" textLength="38.50" lengthAdjust="spacingAndGlyphs" transform="rotate(-45 321.10 314.00)" stroke="#111111" stroke-width="0.1">Lip-C6 + VB</text>
<text x="315.80" y="240.73" font-size="7.4" text-anchor="middle" fill="#111111" textLength="11.60" lengthAdjust="spacingAndGlyphs" stroke="#111111" stroke-width="0.1">&amp;&amp;&amp;</text>
<text x="334.00" y="194.30" font-size="10.5" text-anchor="start" fill="#111111">D</text>
<text x="350.30" y="259.30" font-size="8.4" text-anchor="middle" fill="#111111" textLength="60.50" lengthAdjust="spacingAndGlyphs" transform="rotate(-90 350.30 259.30)" stroke="#111111" stroke-width="0.1">Percent survival</text>
<line x1="374.30" y1="216.40" x2="374.30" y2="305.00" stroke="#111111" stroke-width="1.0"/>
<line x1="371.70" y1="305.00" x2="374.30" y2="305.00" stroke="#111111" stroke-width="0.8"/>
<text x="369.00" y="307.50" font-size="7.0" text-anchor="end" fill="#111111" stroke="#111111" stroke-width="0.1">0</text>
<line x1="371.70" y1="283.23" x2="374.30" y2="283.23" stroke="#111111" stroke-width="0.8"/>
<text x="369.00" y="285.73" font-size="7.0" text-anchor="end" fill="#111111" stroke="#111111" stroke-width="0.1">25</text>
<line x1="371.70" y1="261.45" x2="374.30" y2="261.45" stroke="#111111" stroke-width="0.8"/>
<text x="369.00" y="263.95" font-size="7.0" text-anchor="end" fill="#111111" stroke="#111111" stroke-width="0.1">50</text>
<line x1="371.70" y1="239.68" x2="374.30" y2="239.68" stroke="#111111" stroke-width="0.8"/>
<text x="369.00" y="242.18" font-size="7.0" text-anchor="end" fill="#111111" stroke="#111111" stroke-width="0.1">75</text>
<line x1="371.70" y1="217.90" x2="374.30" y2="217.90" stroke="#111111" stroke-width="0.8"/>
<text x="369.00" y="220.40" font-size="7.0" text-anchor="end" fill="#111111" stroke="#111111" stroke-width="0.1">100</text>
<line x1="374.30" y1="305.00" x2="381.60" y2="305.00" stroke="#111111" stroke-width="1.0"/>
<line x1="374.30" y1="305.00" x2="374.30" y2="307.60" stroke="#111111" stroke-width="0.8"/>
<line x1="381.60" y1="302.50" x2="381.60" y2="307.50" stroke="#111111" stroke-width="0.8"/>
<line x1="387.90" y1="305.00" x2="509.50" y2="305.00" stroke="#111111" stroke-width="1.0"/>
<line x1="387.90" y1="302.50" x2="387.90" y2="307.50" stroke="#111111" stroke-width="0.8"/>
<line x1="396.70" y1="305.00" x2="396.70" y2="307.20" stroke="#111111" stroke-width="0.7"/>
<line x1="405.36" y1="305.00" x2="405.36" y2="307.20" stroke="#111111" stroke-width="0.7"/>
<line x1="414.02" y1="305.00" x2="414.02" y2="307.20" stroke="#111111" stroke-width="0.7"/>
<line x1="422.68" y1="305.00" x2="422.68" y2="307.20" stroke="#111111" stroke-width="0.7"/>
<line x1="431.34" y1="305.00" x2="431.34" y2="307.20" stroke="#111111" stroke-width="0.7"/>
<line x1="440.00" y1="305.00" x2="440.00" y2="307.20" stroke="#111111" stroke-width="0.7"/>
<line x1="448.66" y1="305.00" x2="448.66" y2="307.20" stroke="#111111" stroke-width="0.7"/>
<line x1="457.32" y1="305.00" x2="457.32" y2="307.20" stroke="#111111" stroke-width="0.7"/>
<line x1="465.98" y1="305.00" x2="465.98" y2="307.20" stroke="#111111" stroke-width="0.7"/>
<line x1="474.64" y1="305.00" x2="474.64" y2="307.20" stroke="#111111" stroke-width="0.7"/>
<line x1="483.30" y1="305.00" x2="483.30" y2="307.20" stroke="#111111" stroke-width="0.7"/>
<line x1="491.96" y1="305.00" x2="491.96" y2="307.20" stroke="#111111" stroke-width="0.7"/>
<line x1="500.62" y1="305.00" x2="500.62" y2="307.20" stroke="#111111" stroke-width="0.7"/>
<text x="374.70" y="317.80" font-size="6.8" text-anchor="middle" fill="#111111" stroke="#111111" stroke-width="0.1">0</text>
<text x="396.70" y="317.80" font-size="6.8" text-anchor="middle" fill="#111111" stroke="#111111" stroke-width="0.1">8</text>
<text x="414.02" y="317.80" font-size="6.8" text-anchor="middle" fill="#111111" stroke="#111111" stroke-width="0.1">10</text>
<text x="431.34" y="317.80" font-size="6.8" text-anchor="middle" fill="#111111" stroke="#111111" stroke-width="0.1">12</text>
<text x="448.66" y="317.80" font-size="6.8" text-anchor="middle" fill="#111111" stroke="#111111" stroke-width="0.1">14</text>
<text x="465.98" y="317.80" font-size="6.8" text-anchor="middle" fill="#111111" stroke="#111111" stroke-width="0.1">16</text>
<text x="483.30" y="317.80" font-size="6.8" text-anchor="middle" fill="#111111" stroke="#111111" stroke-width="0.1">18</text>
<text x="500.62" y="317.80" font-size="6.8" text-anchor="middle" fill="#111111" stroke="#111111" stroke-width="0.1">20</text>
<text x="397.20" y="330.30" font-size="8.6" text-anchor="start" fill="#111111" textLength="90.00" lengthAdjust="spacingAndGlyphs" stroke="#111111" stroke-width="0.1">Days post-engraftment</text>
<text x="472.50" y="253.60" font-size="6.5" text-anchor="start" fill="#111111" textLength="36.20" lengthAdjust="spacingAndGlyphs" stroke="#111111" stroke-width="0.1">* p = 0.0008</text>
<line x1="374.80" y1="217.90" x2="381.00" y2="217.90" stroke="#6aaa5a" stroke-width="0.9"/>
<polyline points="388.00,217.90 457.32,217.90 457.32,232.45 465.98,232.45 465.98,261.45 483.30,261.45 483.30,276.00 491.96,276.00 491.96,290.45 500.62,290.45 500.62,305.00" fill="none" stroke="#3f6391" stroke-width="0.9" stroke-dasharray="2.5,1.4"/>
<polygon points="457.32,230.29 459.48,232.45 457.32,234.61 455.16,232.45" fill="#3f6391"/>
<polygon points="465.98,259.29 468.14,261.45 465.98,263.61 463.82,261.45" fill="#3f6391"/>
<polygon points="483.30,273.84 485.46,276.00 483.30,278.16 481.14,276.00" fill="#3f6391"/>
<polygon points="491.96,288.29 494.12,290.45 491.96,292.61 489.80,290.45" fill="#3f6391"/>
<polygon points="500.62,302.84 502.78,305.00 500.62,307.16 498.46,305.00" fill="#3f6391"/>
<polyline points="388.00,217.90 414.02,217.90 414.02,232.45 440.00,232.45 440.00,246.90 448.66,246.90 448.66,261.45 457.32,261.45 457.32,276.00 465.98,276.00 465.98,290.45 483.30,290.45 483.30,305.00" fill="none" stroke="#6b3b6e" stroke-width="0.9"/>
<circle cx="414.02" cy="232.45" r="1.8" fill="#6b3b6e"/>
<circle cx="440.00" cy="246.90" r="1.8" fill="#6b3b6e"/>
<circle cx="448.66" cy="261.45" r="1.8" fill="#6b3b6e"/>
<circle cx="457.32" cy="276.00" r="1.8" fill="#6b3b6e"/>
<circle cx="465.98" cy="290.45" r="1.8" fill="#6b3b6e"/>
<circle cx="483.30" cy="305.00" r="1.8" fill="#6b3b6e"/>
<polyline points="413.59,217.90 414.02,217.90 414.02,232.45 440.00,232.45 440.00,246.90 448.66,246.90 448.66,261.45 457.32,261.45" fill="none" stroke="#b8323f" stroke-width="0.9"/>
<polyline points="457.32,261.45 457.32,290.45 465.98,290.45 465.98,305.00" fill="none" stroke="#b8323f" stroke-width="0.9" stroke-dasharray="2.2,1.6"/>
<circle cx="414.02" cy="232.45" r="1.8" fill="#fff" stroke="#b8323f" stroke-width="0.8"/>
<circle cx="440.00" cy="246.90" r="1.8" fill="#fff" stroke="#b8323f" stroke-width="0.8"/>
<circle cx="448.66" cy="261.45" r="1.8" fill="#fff" stroke="#b8323f" stroke-width="0.8"/>
<circle cx="457.32" cy="290.45" r="1.8" fill="#fff" stroke="#b8323f" stroke-width="0.8"/>
<circle cx="465.98" cy="305.00" r="1.8" fill="#fff" stroke="#b8323f" stroke-width="0.8"/>
<polyline points="388.00,217.90 405.36,217.90 405.36,227.57 414.02,227.57 414.02,237.24 422.68,237.24 422.68,246.90 440.00,246.90 440.00,276.00 448.66,276.00 448.66,305.00" fill="none" stroke="#6aaa5a" stroke-width="0.9"/>
<rect x="403.78" y="225.98" width="3.17" height="3.17" fill="#fff" stroke="#6aaa5a" stroke-width="0.8"/>
<rect x="412.44" y="235.65" width="3.17" height="3.17" fill="#fff" stroke="#6aaa5a" stroke-width="0.8"/>
<rect x="421.10" y="245.32" width="3.17" height="3.17" fill="#fff" stroke="#6aaa5a" stroke-width="0.8"/>
<rect x="438.42" y="274.41" width="3.17" height="3.17" fill="#fff" stroke="#6aaa5a" stroke-width="0.8"/>
<rect x="447.08" y="303.42" width="3.17" height="3.17" fill="#fff" stroke="#6aaa5a" stroke-width="0.8"/>
<circle cx="414.02" cy="232.45" r="1.8" fill="#fff" stroke="#b8323f" stroke-width="0.8"/>
<circle cx="440.00" cy="246.90" r="1.8" fill="#fff" stroke="#b8323f" stroke-width="0.8"/>
<line x1="380.00" y1="262.60" x2="391.00" y2="262.60" stroke="#6aaa5a" stroke-width="0.9"/>
<rect x="383.75" y="260.75" width="3.70" height="3.70" fill="#fff" stroke="#6aaa5a" stroke-width="0.8"/>
<text x="393.80" y="265.10" font-size="7.2" text-anchor="start" fill="#111111" textLength="29.00" lengthAdjust="spacingAndGlyphs" stroke="#111111" stroke-width="0.1">Lip-Ghost</text>
<line x1="380.00" y1="272.97" x2="391.00" y2="272.97" stroke="#b8323f" stroke-width="0.9"/>
<circle cx="385.60" cy="272.97" r="2.1" fill="#fff" stroke="#b8323f" stroke-width="0.8"/>
<text x="393.80" y="275.47" font-size="7.2" text-anchor="start" fill="#111111" textLength="19.30" lengthAdjust="spacingAndGlyphs" stroke="#111111" stroke-width="0.1">Lip-C6</text>
<line x1="380.00" y1="283.34" x2="391.00" y2="283.34" stroke="#6b3b6e" stroke-width="0.9"/>
<circle cx="385.60" cy="283.34" r="2.1" fill="#6b3b6e"/>
<text x="393.80" y="285.84" font-size="7.2" text-anchor="start" fill="#111111" textLength="19.50" lengthAdjust="spacingAndGlyphs" stroke="#111111" stroke-width="0.1">Lip-VB</text>
<line x1="380.00" y1="293.71" x2="391.00" y2="293.71" stroke="#3f6391" stroke-width="0.9"/>
<polygon points="385.60,291.19 388.12,293.71 385.60,296.23 383.08,293.71" fill="#3f6391"/>
<text x="393.80" y="296.21" font-size="7.2" text-anchor="start" fill="#111111" textLength="46.50" lengthAdjust="spacingAndGlyphs" stroke="#111111" stroke-width="0.1">Lip-C6 + Lip-VB</text>
<text x="7.00" y="369.80" font-size="10.5" text-anchor="start" fill="#111111">E</text>
<rect x="63.00" y="372.20" width="28.60" height="103.80" fill="#9195bc" stroke="none" stroke-width="1"/>
<text x="77.30" y="378.30" font-size="7.2" text-anchor="middle" fill="#1a1a2a" textLength="29.80" lengthAdjust="spacingAndGlyphs" stroke="#1a1a2a" stroke-width="0.1">Treatment</text>
<line x1="48.30" y1="373.80" x2="48.30" y2="476.00" stroke="#111111" stroke-width="1.0"/>
<line x1="45.30" y1="476.00" x2="48.30" y2="476.00" stroke="#111111" stroke-width="0.8"/>
<text x="36.60" y="478.60" font-size="7.4" text-anchor="end" fill="#111111" textLength="6.60" lengthAdjust="spacingAndGlyphs" stroke="#111111" stroke-width="0.1">10</text>
<text x="37.00" y="476.20" font-size="4.8" text-anchor="start" fill="#111111" textLength="3.00" lengthAdjust="spacingAndGlyphs" stroke="#111111" stroke-width="0.1">5</text>
<line x1="46.80" y1="471.73" x2="48.30" y2="471.73" stroke="#111111" stroke-width="0.5"/>
<line x1="46.80" y1="469.23" x2="48.30" y2="469.23" stroke="#111111" stroke-width="0.5"/>
<line x1="46.80" y1="467.46" x2="48.30" y2="467.46" stroke="#111111" stroke-width="0.5"/>
<line x1="46.80" y1="466.08" x2="48.30" y2="466.08" stroke="#111111" stroke-width="0.5"/>
<line x1="46.80" y1="464.96" x2="48.30" y2="464.96" stroke="#111111" stroke-width="0.5"/>
<line x1="46.80" y1="464.01" x2="48.30" y2="464.01" stroke="#111111" stroke-width="0.5"/>
<line x1="46.80" y1="463.19" x2="48.30" y2="463.19" stroke="#111111" stroke-width="0.5"/>
<line x1="46.80" y1="462.46" x2="48.30" y2="462.46" stroke="#111111" stroke-width="0.5"/>
<line x1="45.30" y1="461.81" x2="48.30" y2="461.81" stroke="#111111" stroke-width="0.8"/>
<text x="36.60" y="464.41" font-size="7.4" text-anchor="end" fill="#111111" textLength="6.60" lengthAdjust="spacingAndGlyphs" stroke="#111111" stroke-width="0.1">10</text>
<text x="37.00" y="462.01" font-size="4.8" text-anchor="start" fill="#111111" textLength="3.00" lengthAdjust="spacingAndGlyphs" stroke="#111111" stroke-width="0.1">6</text>
<line x1="46.80" y1="457.54" x2="48.30" y2="457.54" stroke="#111111" stroke-width="0.5"/>
<line x1="46.80" y1="455.05" x2="48.30" y2="455.05" stroke="#111111" stroke-width="0.5"/>
<line x1="46.80" y1="453.27" x2="48.30" y2="453.27" stroke="#111111" stroke-width="0.5"/>
<line x1="46.80" y1="451.90" x2="48.30" y2="451.90" stroke="#111111" stroke-width="0.5"/>
<line x1="46.80" y1="450.78" x2="48.30" y2="450.78" stroke="#111111" stroke-width="0.5"/>
<line x1="46.80" y1="449.83" x2="48.30" y2="449.83" stroke="#111111" stroke-width="0.5"/>
<line x1="46.80" y1="449.00" x2="48.30" y2="449.00" stroke="#111111" stroke-width="0.5"/>
<line x1="46.80" y1="448.28" x2="48.30" y2="448.28" stroke="#111111" stroke-width="0.5"/>
<line x1="45.30" y1="447.63" x2="48.30" y2="447.63" stroke="#111111" stroke-width="0.8"/>
<text x="36.60" y="450.23" font-size="7.4" text-anchor="end" fill="#111111" textLength="6.60" lengthAdjust="spacingAndGlyphs" stroke="#111111" stroke-width="0.1">10</text>
<text x="37.00" y="447.83" font-size="4.8" text-anchor="start" fill="#111111" textLength="3.00" lengthAdjust="spacingAndGlyphs" stroke="#111111" stroke-width="0.1">7</text>
<line x1="46.80" y1="443.36" x2="48.30" y2="443.36" stroke="#111111" stroke-width="0.5"/>
<line x1="46.80" y1="440.86" x2="48.30" y2="440.86" stroke="#111111" stroke-width="0.5"/>
<line x1="46.80" y1="439.09" x2="48.30" y2="439.09" stroke="#111111" stroke-width="0.5"/>
<line x1="46.80" y1="437.71" x2="48.30" y2="437.71" stroke="#111111" stroke-width="0.5"/>
<line x1="46.80" y1="436.59" x2="48.30" y2="436.59" stroke="#111111" stroke-width="0.5"/>
<line x1="46.80" y1="435.64" x2="48.30" y2="435.64" stroke="#111111" stroke-width="0.5"/>
<line x1="46.80" y1="434.82" x2="48.30" y2="434.82" stroke="#111111" stroke-width="0.5"/>
<line x1="46.80" y1="434.09" x2="48.30" y2="434.09" stroke="#111111" stroke-width="0.5"/>
<line x1="45.30" y1="433.44" x2="48.30" y2="433.44" stroke="#111111" stroke-width="0.8"/>
<text x="36.60" y="436.04" font-size="7.4" text-anchor="end" fill="#111111" textLength="6.60" lengthAdjust="spacingAndGlyphs" stroke="#111111" stroke-width="0.1">10</text>
<text x="37.00" y="433.64" font-size="4.8" text-anchor="start" fill="#111111" textLength="3.00" lengthAdjust="spacingAndGlyphs" stroke="#111111" stroke-width="0.1">8</text>
<line x1="46.80" y1="429.17" x2="48.30" y2="429.17" stroke="#111111" stroke-width="0.5"/>
<line x1="46.80" y1="426.67" x2="48.30" y2="426.67" stroke="#111111" stroke-width="0.5"/>
<line x1="46.80" y1="424.90" x2="48.30" y2="424.90" stroke="#111111" stroke-width="0.5"/>
<line x1="46.80" y1="423.53" x2="48.30" y2="423.53" stroke="#111111" stroke-width="0.5"/>
<line x1="46.80" y1="422.40" x2="48.30" y2="422.40" stroke="#111111" stroke-width="0.5"/>
<line x1="46.80" y1="421.45" x2="48.30" y2="421.45" stroke="#111111" stroke-width="0.5"/>
<line x1="46.80" y1="420.63" x2="48.30" y2="420.63" stroke="#111111" stroke-width="0.5"/>
<line x1="46.80" y1="419.91" x2="48.30" y2="419.91" stroke="#111111" stroke-width="0.5"/>
<line x1="45.30" y1="419.26" x2="48.30" y2="419.26" stroke="#111111" stroke-width="0.8"/>
<text x="36.60" y="421.86" font-size="7.4" text-anchor="end" fill="#111111" textLength="6.60" lengthAdjust="spacingAndGlyphs" stroke="#111111" stroke-width="0.1">10</text>
<text x="37.00" y="419.46" font-size="4.8" text-anchor="start" fill="#111111" textLength="3.00" lengthAdjust="spacingAndGlyphs" stroke="#111111" stroke-width="0.1">9</text>
<line x1="46.80" y1="414.99" x2="48.30" y2="414.99" stroke="#111111" stroke-width="0.5"/>
<line x1="46.80" y1="412.49" x2="48.30" y2="412.49" stroke="#111111" stroke-width="0.5"/>
<line x1="46.80" y1="410.72" x2="48.30" y2="410.72" stroke="#111111" stroke-width="0.5"/>
<line x1="46.80" y1="409.34" x2="48.30" y2="409.34" stroke="#111111" stroke-width="0.5"/>
<line x1="46.80" y1="408.22" x2="48.30" y2="408.22" stroke="#111111" stroke-width="0.5"/>
<line x1="46.80" y1="407.27" x2="48.30" y2="407.27" stroke="#111111" stroke-width="0.5"/>
<line x1="46.80" y1="406.45" x2="48.30" y2="406.45" stroke="#111111" stroke-width="0.5"/>
<line x1="46.80" y1="405.72" x2="48.30" y2="405.72" stroke="#111111" stroke-width="0.5"/>
<line x1="45.30" y1="405.07" x2="48.30" y2="405.07" stroke="#111111" stroke-width="0.8"/>
<text x="36.60" y="407.67" font-size="7.4" text-anchor="end" fill="#111111" textLength="6.60" lengthAdjust="spacingAndGlyphs" stroke="#111111" stroke-width="0.1">10</text>
<text x="37.00" y="405.27" font-size="4.8" text-anchor="start" fill="#111111" textLength="6.00" lengthAdjust="spacingAndGlyphs" stroke="#111111" stroke-width="0.1">10</text>
<line x1="46.80" y1="400.80" x2="48.30" y2="400.80" stroke="#111111" stroke-width="0.5"/>
<line x1="46.80" y1="398.30" x2="48.30" y2="398.30" stroke="#111111" stroke-width="0.5"/>
<line x1="46.80" y1="396.53" x2="48.30" y2="396.53" stroke="#111111" stroke-width="0.5"/>
<line x1="46.80" y1="395.16" x2="48.30" y2="395.16" stroke="#111111" stroke-width="0.5"/>
<line x1="46.80" y1="394.03" x2="48.30" y2="394.03" stroke="#111111" stroke-width="0.5"/>
<line x1="46.80" y1="393.08" x2="48.30" y2="393.08" stroke="#111111" stroke-width="0.5"/>
<line x1="46.80" y1="392.26" x2="48.30" y2="392.26" stroke="#111111" stroke-width="0.5"/>
<line x1="46.80" y1="391.53" x2="48.30" y2="391.53" stroke="#111111" stroke-width="0.5"/>
<line x1="45.30" y1="390.89" x2="48.30" y2="390.89" stroke="#111111" stroke-width="0.8"/>
<text x="36.60" y="393.49" font-size="7.4" text-anchor="end" fill="#111111" textLength="6.60" lengthAdjust="spacingAndGlyphs" stroke="#111111" stroke-width="0.1">10</text>
<text x="37.00" y="391.09" font-size="4.8" text-anchor="start" fill="#111111" textLength="6.00" lengthAdjust="spacingAndGlyphs" stroke="#111111" stroke-width="0.1">11</text>
<line x1="46.80" y1="386.62" x2="48.30" y2="386.62" stroke="#111111" stroke-width="0.5"/>
<line x1="46.80" y1="384.12" x2="48.30" y2="384.12" stroke="#111111" stroke-width="0.5"/>
<line x1="46.80" y1="382.35" x2="48.30" y2="382.35" stroke="#111111" stroke-width="0.5"/>
<line x1="46.80" y1="380.97" x2="48.30" y2="380.97" stroke="#111111" stroke-width="0.5"/>
<line x1="46.80" y1="379.85" x2="48.30" y2="379.85" stroke="#111111" stroke-width="0.5"/>
<line x1="46.80" y1="378.90" x2="48.30" y2="378.90" stroke="#111111" stroke-width="0.5"/>
<line x1="46.80" y1="378.07" x2="48.30" y2="378.07" stroke="#111111" stroke-width="0.5"/>
<line x1="46.80" y1="377.35" x2="48.30" y2="377.35" stroke="#111111" stroke-width="0.5"/>
<line x1="45.30" y1="376.70" x2="48.30" y2="376.70" stroke="#111111" stroke-width="0.8"/>
<text x="36.60" y="379.30" font-size="7.4" text-anchor="end" fill="#111111" textLength="6.60" lengthAdjust="spacingAndGlyphs" stroke="#111111" stroke-width="0.1">10</text>
<text x="37.00" y="376.90" font-size="4.8" text-anchor="start" fill="#111111" textLength="6.00" lengthAdjust="spacingAndGlyphs" stroke="#111111" stroke-width="0.1">12</text>
<text x="22.00" y="424.60" font-size="8.6" text-anchor="middle" fill="#111111" textLength="101.00" lengthAdjust="spacingAndGlyphs" transform="rotate(-90 22.00 424.60)" stroke="#111111" stroke-width="0.1">Avg. radiance [p/s/cm2/sr]</text>
<line x1="48.30" y1="476.00" x2="186.60" y2="476.00" stroke="#111111" stroke-width="1.0"/>
<line x1="186.60" y1="473.50" x2="186.60" y2="478.50" stroke="#111111" stroke-width="0.8"/>
<line x1="191.80" y1="476.00" x2="236.80" y2="476.00" stroke="#111111" stroke-width="1.0"/>
<line x1="191.80" y1="473.50" x2="191.80" y2="478.50" stroke="#111111" stroke-width="0.8"/>
<line x1="49.00" y1="476.00" x2="49.00" y2="478.40" stroke="#111111" stroke-width="0.7"/>
<line x1="60.30" y1="476.00" x2="60.30" y2="477.60" stroke="#111111" stroke-width="0.7"/>
<line x1="71.60" y1="476.00" x2="71.60" y2="477.60" stroke="#111111" stroke-width="0.7"/>
<line x1="82.90" y1="476.00" x2="82.90" y2="477.60" stroke="#111111" stroke-width="0.7"/>
<line x1="94.20" y1="476.00" x2="94.20" y2="478.40" stroke="#111111" stroke-width="0.7"/>
<line x1="105.50" y1="476.00" x2="105.50" y2="477.60" stroke="#111111" stroke-width="0.7"/>
<line x1="116.80" y1="476.00" x2="116.80" y2="477.60" stroke="#111111" stroke-width="0.7"/>
<line x1="128.10" y1="476.00" x2="128.10" y2="477.60" stroke="#111111" stroke-width="0.7"/>
<line x1="139.40" y1="476.00" x2="139.40" y2="478.40" stroke="#111111" stroke-width="0.7"/>
<line x1="150.70" y1="476.00" x2="150.70" y2="477.60" stroke="#111111" stroke-width="0.7"/>
<line x1="162.00" y1="476.00" x2="162.00" y2="477.60" stroke="#111111" stroke-width="0.7"/>
<line x1="173.30" y1="476.00" x2="173.30" y2="477.60" stroke="#111111" stroke-width="0.7"/>
<line x1="184.60" y1="476.00" x2="184.60" y2="478.40" stroke="#111111" stroke-width="0.7"/>
<line x1="207.00" y1="476.00" x2="207.00" y2="478.40" stroke="#111111" stroke-width="0.7"/>
<line x1="220.60" y1="476.00" x2="220.60" y2="478.40" stroke="#111111" stroke-width="0.7"/>
<line x1="234.20" y1="476.00" x2="234.20" y2="478.40" stroke="#111111" stroke-width="0.7"/>
<text x="49.00" y="489.20" font-size="6.8" text-anchor="middle" fill="#111111" stroke="#111111" stroke-width="0.1">0</text>
<text x="94.20" y="489.20" font-size="6.8" text-anchor="middle" fill="#111111" stroke="#111111" stroke-width="0.1">50</text>
<text x="139.40" y="489.20" font-size="6.8" text-anchor="middle" fill="#111111" stroke="#111111" stroke-width="0.1">100</text>
<text x="185.50" y="489.20" font-size="6.8" text-anchor="middle" fill="#111111" stroke="#111111" stroke-width="0.1">150</text>
<text x="207.00" y="489.20" font-size="6.8" text-anchor="middle" fill="#111111" stroke="#111111" stroke-width="0.1">200</text>
<text x="234.20" y="489.20" font-size="6.8" text-anchor="middle" fill="#111111" stroke="#111111" stroke-width="0.1">300</text>
<text x="98.00" y="501.80" font-size="8.6" text-anchor="start" fill="#111111" textLength="90.00" lengthAdjust="spacingAndGlyphs" stroke="#111111" stroke-width="0.1">Days post-engraftment</text>
<text x="146.30" y="460.00" font-size="6.3" text-anchor="middle" fill="#111111" stroke="#111111" stroke-width="0.1">***</text>
<polyline points="58.04,450.47 70.70,458.98 82.45,468.20 94.20,469.62 100.53,467.49 108.66,463.94 117.70,464.65 127.65,465.36 134.88,464.65 147.54,466.07 160.19,467.49 175.56,465.36 194.76,464.65 200.20,466.07 209.72,467.49 219.24,468.91 228.76,468.20" fill="none" stroke="#3f6391" stroke-width="0.85" stroke-dasharray="2.2,1.3"/>
<polygon points="58.04,448.61 59.90,450.47 58.04,452.33 56.18,450.47" fill="#3f6391"/>
<polygon points="70.70,457.12 72.56,458.98 70.70,460.84 68.84,458.98" fill="#3f6391"/>
<polygon points="82.45,466.34 84.31,468.20 82.45,470.06 80.59,468.20" fill="#3f6391"/>
<polygon points="94.20,467.76 96.06,469.62 94.20,471.48 92.34,469.62" fill="#3f6391"/>
<polygon points="100.53,465.63 102.39,467.49 100.53,469.35 98.67,467.49" fill="#3f6391"/>
<polygon points="108.66,462.08 110.52,463.94 108.66,465.80 106.80,463.94" fill="#3f6391"/>
<polygon points="117.70,462.79 119.56,464.65 117.70,466.51 115.84,464.65" fill="#3f6391"/>
<polygon points="127.65,463.50 129.51,465.36 127.65,467.22 125.79,465.36" fill="#3f6391"/>
<polygon points="134.88,462.79 136.74,464.65 134.88,466.51 133.02,464.65" fill="#3f6391"/>
<polygon points="147.54,464.21 149.40,466.07 147.54,467.93 145.68,466.07" fill="#3f6391"/>
<polygon points="160.19,465.63 162.05,467.49 160.19,469.35 158.33,467.49" fill="#3f6391"/>
<polygon points="175.56,463.50 177.42,465.36 175.56,467.22 173.70,465.36" fill="#3f6391"/>
<polygon points="194.76,462.79 196.62,464.65 194.76,466.51 192.90,464.65" fill="#3f6391"/>
<polygon points="200.20,464.21 202.06,466.07 200.20,467.93 198.34,466.07" fill="#3f6391"/>
<polygon points="209.72,465.63 211.58,467.49 209.72,469.35 207.86,467.49" fill="#3f6391"/>
<polygon points="219.24,467.05 221.10,468.91 219.24,470.77 217.38,468.91" fill="#3f6391"/>
<polygon points="228.76,466.34 230.62,468.20 228.76,470.06 226.90,468.20" fill="#3f6391"/>
<polyline points="61.66,454.72 77.02,464.65 88.78,467.49 100.53,469.62 108.66,466.07 120.42,463.94 127.65,466.07 138.50,464.65 147.54,463.94 160.19,466.07 175.56,464.65 196.12,465.36 202.92,467.49 211.08,466.07 220.60,469.62 229.58,466.07" fill="none" stroke="#3f6391" stroke-width="0.85" stroke-dasharray="2.2,1.3"/>
<polygon points="61.66,452.86 63.52,454.72 61.66,456.58 59.80,454.72" fill="#3f6391"/>
<polygon points="77.02,462.79 78.88,464.65 77.02,466.51 75.16,464.65" fill="#3f6391"/>
<polygon points="88.78,465.63 90.64,467.49 88.78,469.35 86.92,467.49" fill="#3f6391"/>
<polygon points="100.53,467.76 102.39,469.62 100.53,471.48 98.67,469.62" fill="#3f6391"/>
<polygon points="108.66,464.21 110.52,466.07 108.66,467.93 106.80,466.07" fill="#3f6391"/>
<polygon points="120.42,462.08 122.28,463.94 120.42,465.80 118.56,463.94" fill="#3f6391"/>
<polygon points="127.65,464.21 129.51,466.07 127.65,467.93 125.79,466.07" fill="#3f6391"/>
<polygon points="138.50,462.79 140.36,464.65 138.50,466.51 136.64,464.65" fill="#3f6391"/>
<polygon points="147.54,462.08 149.40,463.94 147.54,465.80 145.68,463.94" fill="#3f6391"/>
<polygon points="160.19,464.21 162.05,466.07 160.19,467.93 158.33,466.07" fill="#3f6391"/>
<polygon points="175.56,462.79 177.42,464.65 175.56,466.51 173.70,464.65" fill="#3f6391"/>
<polygon points="196.12,463.50 197.98,465.36 196.12,467.22 194.26,465.36" fill="#3f6391"/>
<polygon points="202.92,465.63 204.78,467.49 202.92,469.35 201.06,467.49" fill="#3f6391"/>
<polygon points="211.08,464.21 212.94,466.07 211.08,467.93 209.22,466.07" fill="#3f6391"/>
<polygon points="220.60,467.76 222.46,469.62 220.60,471.48 218.74,469.62" fill="#3f6391"/>
<polygon points="229.58,464.21 231.44,466.07 229.58,467.93 227.72,466.07" fill="#3f6391"/>
<polyline points="58.04,454.72 70.70,461.81 82.45,465.36 94.20,466.07 100.53,470.33 108.66,465.36 117.70,466.07 134.88,465.36 147.54,466.78 166.52,464.65 184.60,465.36 204.28,464.65 209.72,466.07 219.24,468.20 228.76,464.65" fill="none" stroke="#3f6391" stroke-width="0.85" stroke-dasharray="2.2,1.3"/>
<polygon points="58.04,452.86 59.90,454.72 58.04,456.58 56.18,454.72" fill="#3f6391"/>
<polygon points="70.70,459.95 72.56,461.81 70.70,463.67 68.84,461.81" fill="#3f6391"/>
<polygon points="82.45,463.50 84.31,465.36 82.45,467.22 80.59,465.36" fill="#3f6391"/>
<polygon points="94.20,464.21 96.06,466.07 94.20,467.93 92.34,466.07" fill="#3f6391"/>
<polygon points="100.53,468.47 102.39,470.33 100.53,472.19 98.67,470.33" fill="#3f6391"/>
<polygon points="108.66,463.50 110.52,465.36 108.66,467.22 106.80,465.36" fill="#3f6391"/>
<polygon points="117.70,464.21 119.56,466.07 117.70,467.93 115.84,466.07" fill="#3f6391"/>
<polygon points="134.88,463.50 136.74,465.36 134.88,467.22 133.02,465.36" fill="#3f6391"/>
<polygon points="147.54,464.92 149.40,466.78 147.54,468.64 145.68,466.78" fill="#3f6391"/>
<polygon points="166.52,462.79 168.38,464.65 166.52,466.51 164.66,464.65" fill="#3f6391"/>
<polygon points="184.60,463.50 186.46,465.36 184.60,467.22 182.74,465.36" fill="#3f6391"/>
<polygon points="204.28,462.79 206.14,464.65 204.28,466.51 202.42,464.65" fill="#3f6391"/>
<polygon points="209.72,464.21 211.58,466.07 209.72,467.93 207.86,466.07" fill="#3f6391"/>
<polygon points="219.24,466.34 221.10,468.20 219.24,470.06 217.38,468.20" fill="#3f6391"/>
<polygon points="228.76,462.79 230.62,464.65 228.76,466.51 226.90,464.65" fill="#3f6391"/>
<polyline points="61.66,449.05 77.02,461.81 88.78,466.78 100.53,466.07 110.47,464.65 120.42,465.36 138.50,466.07 160.19,465.36 175.56,466.07 198.84,464.65 207.00,465.36 217.88,467.49 229.58,466.78" fill="none" stroke="#3f6391" stroke-width="0.85" stroke-dasharray="2.2,1.3"/>
<polygon points="61.66,447.19 63.52,449.05 61.66,450.91 59.80,449.05" fill="#3f6391"/>
<polygon points="77.02,459.95 78.88,461.81 77.02,463.67 75.16,461.81" fill="#3f6391"/>
<polygon points="88.78,464.92 90.64,466.78 88.78,468.64 86.92,466.78" fill="#3f6391"/>
<polygon points="100.53,464.21 102.39,466.07 100.53,467.93 98.67,466.07" fill="#3f6391"/>
<polygon points="110.47,462.79 112.33,464.65 110.47,466.51 108.61,464.65" fill="#3f6391"/>
<polygon points="120.42,463.50 122.28,465.36 120.42,467.22 118.56,465.36" fill="#3f6391"/>
<polygon points="138.50,464.21 140.36,466.07 138.50,467.93 136.64,466.07" fill="#3f6391"/>
<polygon points="160.19,463.50 162.05,465.36 160.19,467.22 158.33,465.36" fill="#3f6391"/>
<polygon points="175.56,464.21 177.42,466.07 175.56,467.93 173.70,466.07" fill="#3f6391"/>
<polygon points="198.84,462.79 200.70,464.65 198.84,466.51 196.98,464.65" fill="#3f6391"/>
<polygon points="207.00,463.50 208.86,465.36 207.00,467.22 205.14,465.36" fill="#3f6391"/>
<polygon points="217.88,465.63 219.74,467.49 217.88,469.35 216.02,467.49" fill="#3f6391"/>
<polygon points="229.58,464.92 231.44,466.78 229.58,468.64 227.72,466.78" fill="#3f6391"/>
<polyline points="58.04,451.88 70.70,460.40 82.45,467.49 94.20,468.91 100.53,473.16 109.57,450.89 120.42,439.26 128.55,409.04 133.98,404.50 139.40,394.29 147.54,391.45 160.19,391.45" fill="none" stroke="#3f6391" stroke-width="0.85" stroke-dasharray="2.2,1.3"/>
<polygon points="58.04,450.02 59.90,451.88 58.04,453.74 56.18,451.88" fill="#3f6391"/>
<polygon points="70.70,458.54 72.56,460.40 70.70,462.26 68.84,460.40" fill="#3f6391"/>
<polygon points="82.45,465.63 84.31,467.49 82.45,469.35 80.59,467.49" fill="#3f6391"/>
<polygon points="94.20,467.05 96.06,468.91 94.20,470.77 92.34,468.91" fill="#3f6391"/>
<polygon points="100.53,471.30 102.39,473.16 100.53,475.02 98.67,473.16" fill="#3f6391"/>
<polygon points="109.57,449.03 111.43,450.89 109.57,452.75 107.71,450.89" fill="#3f6391"/>
<polygon points="120.42,437.40 122.28,439.26 120.42,441.12 118.56,439.26" fill="#3f6391"/>
<polygon points="128.55,407.18 130.41,409.04 128.55,410.90 126.69,409.04" fill="#3f6391"/>
<polygon points="133.98,402.64 135.84,404.50 133.98,406.36 132.12,404.50" fill="#3f6391"/>
<polygon points="139.40,392.43 141.26,394.29 139.40,396.15 137.54,394.29" fill="#3f6391"/>
<polygon points="147.54,389.59 149.40,391.45 147.54,393.31 145.68,391.45" fill="#3f6391"/>
<polygon points="160.19,389.59 162.05,391.45 160.19,393.31 158.33,391.45" fill="#3f6391"/>
<polyline points="61.66,453.30 77.02,464.65 88.78,466.07 100.53,468.91 115.90,441.39 128.55,413.58 139.40,401.52" fill="none" stroke="#3f6391" stroke-width="0.85" stroke-dasharray="2.2,1.3"/>
<polygon points="61.66,451.44 63.52,453.30 61.66,455.16 59.80,453.30" fill="#3f6391"/>
<polygon points="77.02,462.79 78.88,464.65 77.02,466.51 75.16,464.65" fill="#3f6391"/>
<polygon points="88.78,464.21 90.64,466.07 88.78,467.93 86.92,466.07" fill="#3f6391"/>
<polygon points="100.53,467.05 102.39,468.91 100.53,470.77 98.67,468.91" fill="#3f6391"/>
<polygon points="115.90,439.53 117.76,441.39 115.90,443.25 114.04,441.39" fill="#3f6391"/>
<polygon points="128.55,411.72 130.41,413.58 128.55,415.44 126.69,413.58" fill="#3f6391"/>
<polygon points="139.40,399.66 141.26,401.52 139.40,403.38 137.54,401.52" fill="#3f6391"/>
<polyline points="61.20,445.64 70.42,450.89 82.45,462.52 94.20,449.90 100.26,439.26 109.39,416.99 120.42,405.07 128.55,393.72 139.40,392.02" fill="none" stroke="#6b3b6e" stroke-width="0.85"/>
<circle cx="61.20" cy="445.64" r="1.6" fill="#6b3b6e"/>
<circle cx="70.42" cy="450.89" r="1.6" fill="#6b3b6e"/>
<circle cx="82.45" cy="462.52" r="1.6" fill="#6b3b6e"/>
<circle cx="94.20" cy="449.90" r="1.6" fill="#6b3b6e"/>
<circle cx="100.26" cy="439.26" r="1.6" fill="#6b3b6e"/>
<circle cx="109.39" cy="416.99" r="1.6" fill="#6b3b6e"/>
<circle cx="120.42" cy="405.07" r="1.6" fill="#6b3b6e"/>
<circle cx="128.55" cy="393.72" r="1.6" fill="#6b3b6e"/>
<circle cx="139.40" cy="392.02" r="1.6" fill="#6b3b6e"/>
<polyline points="58.04,449.05 70.42,454.72 77.30,460.40 88.78,456.14 94.20,462.52 100.26,444.51 109.39,429.61 120.42,414.72 128.55,398.26" fill="none" stroke="#6b3b6e" stroke-width="0.85"/>
<circle cx="58.04" cy="449.05" r="1.6" fill="#6b3b6e"/>
<circle cx="70.42" cy="454.72" r="1.6" fill="#6b3b6e"/>
<circle cx="77.30" cy="460.40" r="1.6" fill="#6b3b6e"/>
<circle cx="88.78" cy="456.14" r="1.6" fill="#6b3b6e"/>
<circle cx="94.20" cy="462.52" r="1.6" fill="#6b3b6e"/>
<circle cx="100.26" cy="444.51" r="1.6" fill="#6b3b6e"/>
<circle cx="109.39" cy="429.61" r="1.6" fill="#6b3b6e"/>
<circle cx="120.42" cy="414.72" r="1.6" fill="#6b3b6e"/>
<circle cx="128.55" cy="398.26" r="1.6" fill="#6b3b6e"/>
<polyline points="61.20,449.05 77.30,463.23 88.78,461.81 94.20,460.40 100.26,450.89 120.42,424.93 128.55,411.60 139.40,398.97 145.73,393.44" fill="none" stroke="#6b3b6e" stroke-width="0.85"/>
<circle cx="61.20" cy="449.05" r="1.6" fill="#6b3b6e"/>
<circle cx="77.30" cy="463.23" r="1.6" fill="#6b3b6e"/>
<circle cx="88.78" cy="461.81" r="1.6" fill="#6b3b6e"/>
<circle cx="94.20" cy="460.40" r="1.6" fill="#6b3b6e"/>
<circle cx="100.26" cy="450.89" r="1.6" fill="#6b3b6e"/>
<circle cx="120.42" cy="424.93" r="1.6" fill="#6b3b6e"/>
<circle cx="128.55" cy="411.60" r="1.6" fill="#6b3b6e"/>
<circle cx="139.40" cy="398.97" r="1.6" fill="#6b3b6e"/>
<circle cx="145.73" cy="393.44" r="1.6" fill="#6b3b6e"/>
<polyline points="58.04,453.30 70.70,458.98 82.45,466.07 88.78,463.23 100.26,451.88 116.80,439.26 126.74,425.36 134.88,410.60 145.73,401.67" fill="none" stroke="#6b3b6e" stroke-width="0.85"/>
<circle cx="58.04" cy="453.30" r="1.6" fill="#6b3b6e"/>
<circle cx="70.70" cy="458.98" r="1.6" fill="#6b3b6e"/>
<circle cx="82.45" cy="466.07" r="1.6" fill="#6b3b6e"/>
<circle cx="88.78" cy="463.23" r="1.6" fill="#6b3b6e"/>
<circle cx="100.26" cy="451.88" r="1.6" fill="#6b3b6e"/>
<circle cx="116.80" cy="439.26" r="1.6" fill="#6b3b6e"/>
<circle cx="126.74" cy="425.36" r="1.6" fill="#6b3b6e"/>
<circle cx="134.88" cy="410.60" r="1.6" fill="#6b3b6e"/>
<circle cx="145.73" cy="401.67" r="1.6" fill="#6b3b6e"/>
<polyline points="61.66,447.63 77.02,464.65 94.20,465.79 100.26,466.78 115.90,441.39 126.74,423.23 128.55,413.72 139.40,403.09" fill="none" stroke="#6b3b6e" stroke-width="0.85"/>
<circle cx="61.66" cy="447.63" r="1.6" fill="#6b3b6e"/>
<circle cx="77.02" cy="464.65" r="1.6" fill="#6b3b6e"/>
<circle cx="94.20" cy="465.79" r="1.6" fill="#6b3b6e"/>
<circle cx="100.26" cy="466.78" r="1.6" fill="#6b3b6e"/>
<circle cx="115.90" cy="441.39" r="1.6" fill="#6b3b6e"/>
<circle cx="126.74" cy="423.23" r="1.6" fill="#6b3b6e"/>
<circle cx="128.55" cy="413.72" r="1.6" fill="#6b3b6e"/>
<circle cx="139.40" cy="403.09" r="1.6" fill="#6b3b6e"/>
<polyline points="58.04,456.14 70.70,461.81 82.45,467.49 94.20,463.23 100.26,456.14 120.42,434.86 134.88,407.20 139.40,402.23" fill="none" stroke="#6b3b6e" stroke-width="0.85"/>
<circle cx="58.04" cy="456.14" r="1.6" fill="#6b3b6e"/>
<circle cx="70.70" cy="461.81" r="1.6" fill="#6b3b6e"/>
<circle cx="82.45" cy="467.49" r="1.6" fill="#6b3b6e"/>
<circle cx="94.20" cy="463.23" r="1.6" fill="#6b3b6e"/>
<circle cx="100.26" cy="456.14" r="1.6" fill="#6b3b6e"/>
<circle cx="120.42" cy="434.86" r="1.6" fill="#6b3b6e"/>
<circle cx="134.88" cy="407.20" r="1.6" fill="#6b3b6e"/>
<circle cx="139.40" cy="402.23" r="1.6" fill="#6b3b6e"/>
<polyline points="58.04,457.27 70.42,433.87 82.00,409.89 88.69,398.97 94.47,394.72 100.53,388.33" fill="none" stroke="#b8323f" stroke-width="0.85" stroke-dasharray="2.2,1.3"/>
<circle cx="58.04" cy="457.27" r="1.75" fill="#fff" stroke="#b8323f" stroke-width="0.8"/>
<circle cx="70.42" cy="433.87" r="1.75" fill="#fff" stroke="#b8323f" stroke-width="0.8"/>
<circle cx="82.00" cy="409.89" r="1.75" fill="#fff" stroke="#b8323f" stroke-width="0.8"/>
<circle cx="88.69" cy="398.97" r="1.75" fill="#fff" stroke="#b8323f" stroke-width="0.8"/>
<circle cx="94.47" cy="394.72" r="1.75" fill="#fff" stroke="#b8323f" stroke-width="0.8"/>
<circle cx="100.53" cy="388.33" r="1.75" fill="#fff" stroke="#b8323f" stroke-width="0.8"/>
<polyline points="58.04,453.30 70.42,463.66 77.30,432.02 82.00,419.26 88.69,402.23 94.47,397.98 100.53,391.45" fill="none" stroke="#b8323f" stroke-width="0.85" stroke-dasharray="2.2,1.3"/>
<circle cx="58.04" cy="453.30" r="1.75" fill="#fff" stroke="#b8323f" stroke-width="0.8"/>
<circle cx="70.42" cy="463.66" r="1.75" fill="#fff" stroke="#b8323f" stroke-width="0.8"/>
<circle cx="77.30" cy="432.02" r="1.75" fill="#fff" stroke="#b8323f" stroke-width="0.8"/>
<circle cx="82.00" cy="419.26" r="1.75" fill="#fff" stroke="#b8323f" stroke-width="0.8"/>
<circle cx="88.69" cy="402.23" r="1.75" fill="#fff" stroke="#b8323f" stroke-width="0.8"/>
<circle cx="94.47" cy="397.98" r="1.75" fill="#fff" stroke="#b8323f" stroke-width="0.8"/>
<circle cx="100.53" cy="391.45" r="1.75" fill="#fff" stroke="#b8323f" stroke-width="0.8"/>
<polyline points="58.04,449.76 61.20,437.13 70.42,418.97 77.30,413.72 82.00,402.80 88.69,389.47 94.47,384.08 100.53,382.37" fill="none" stroke="#6aaa5a" stroke-width="0.85"/>
<rect x="56.54" y="448.26" width="2.99" height="2.99" fill="#fff" stroke="#6aaa5a" stroke-width="0.8"/>
<rect x="59.71" y="435.64" width="2.99" height="2.99" fill="#fff" stroke="#6aaa5a" stroke-width="0.8"/>
<rect x="68.93" y="417.48" width="2.99" height="2.99" fill="#fff" stroke="#6aaa5a" stroke-width="0.8"/>
<rect x="75.80" y="412.23" width="2.99" height="2.99" fill="#fff" stroke="#6aaa5a" stroke-width="0.8"/>
<rect x="80.50" y="401.31" width="2.99" height="2.99" fill="#fff" stroke="#6aaa5a" stroke-width="0.8"/>
<rect x="87.19" y="387.97" width="2.99" height="2.99" fill="#fff" stroke="#6aaa5a" stroke-width="0.8"/>
<rect x="92.98" y="382.58" width="2.99" height="2.99" fill="#fff" stroke="#6aaa5a" stroke-width="0.8"/>
<rect x="99.03" y="380.88" width="2.99" height="2.99" fill="#fff" stroke="#6aaa5a" stroke-width="0.8"/>
<polyline points="58.04,454.15 61.20,441.25 70.42,422.24 77.30,417.98 82.00,405.36 88.69,393.01 94.47,387.34" fill="none" stroke="#6aaa5a" stroke-width="0.85"/>
<rect x="56.54" y="452.66" width="2.99" height="2.99" fill="#fff" stroke="#6aaa5a" stroke-width="0.8"/>
<rect x="59.71" y="439.75" width="2.99" height="2.99" fill="#fff" stroke="#6aaa5a" stroke-width="0.8"/>
<rect x="68.93" y="420.74" width="2.99" height="2.99" fill="#fff" stroke="#6aaa5a" stroke-width="0.8"/>
<rect x="75.80" y="416.48" width="2.99" height="2.99" fill="#fff" stroke="#6aaa5a" stroke-width="0.8"/>
<rect x="80.50" y="403.86" width="2.99" height="2.99" fill="#fff" stroke="#6aaa5a" stroke-width="0.8"/>
<rect x="87.19" y="391.52" width="2.99" height="2.99" fill="#fff" stroke="#6aaa5a" stroke-width="0.8"/>
<rect x="92.98" y="385.84" width="2.99" height="2.99" fill="#fff" stroke="#6aaa5a" stroke-width="0.8"/>
<polyline points="58.04,456.14 61.20,449.90 70.42,427.48 77.30,431.88 84.80,411.60 88.69,396.56 94.47,404.22 100.53,398.97" fill="none" stroke="#6aaa5a" stroke-width="0.85"/>
<rect x="56.54" y="454.64" width="2.99" height="2.99" fill="#fff" stroke="#6aaa5a" stroke-width="0.8"/>
<rect x="59.71" y="448.40" width="2.99" height="2.99" fill="#fff" stroke="#6aaa5a" stroke-width="0.8"/>
<rect x="68.93" y="425.99" width="2.99" height="2.99" fill="#fff" stroke="#6aaa5a" stroke-width="0.8"/>
<rect x="75.80" y="430.39" width="2.99" height="2.99" fill="#fff" stroke="#6aaa5a" stroke-width="0.8"/>
<rect x="83.30" y="410.10" width="2.99" height="2.99" fill="#fff" stroke="#6aaa5a" stroke-width="0.8"/>
<rect x="87.19" y="395.06" width="2.99" height="2.99" fill="#fff" stroke="#6aaa5a" stroke-width="0.8"/>
<rect x="92.98" y="402.72" width="2.99" height="2.99" fill="#fff" stroke="#6aaa5a" stroke-width="0.8"/>
<rect x="99.03" y="397.48" width="2.99" height="2.99" fill="#fff" stroke="#6aaa5a" stroke-width="0.8"/>
<polyline points="61.20,447.63 70.42,438.83 77.30,419.26 84.80,416.99 88.69,400.82 94.47,390.89" fill="none" stroke="#6aaa5a" stroke-width="0.85"/>
<rect x="59.71" y="446.13" width="2.99" height="2.99" fill="#fff" stroke="#6aaa5a" stroke-width="0.8"/>
<rect x="68.93" y="437.34" width="2.99" height="2.99" fill="#fff" stroke="#6aaa5a" stroke-width="0.8"/>
<rect x="75.80" y="417.76" width="2.99" height="2.99" fill="#fff" stroke="#6aaa5a" stroke-width="0.8"/>
<rect x="83.30" y="415.49" width="2.99" height="2.99" fill="#fff" stroke="#6aaa5a" stroke-width="0.8"/>
<rect x="87.19" y="399.32" width="2.99" height="2.99" fill="#fff" stroke="#6aaa5a" stroke-width="0.8"/>
<rect x="92.98" y="389.39" width="2.99" height="2.99" fill="#fff" stroke="#6aaa5a" stroke-width="0.8"/>
<polyline points="58.04,453.30 70.42,424.93 82.00,409.04 88.69,393.72 94.47,386.63 100.53,383.79" fill="none" stroke="#6aaa5a" stroke-width="0.85"/>
<rect x="56.54" y="451.81" width="2.99" height="2.99" fill="#fff" stroke="#6aaa5a" stroke-width="0.8"/>
<rect x="68.93" y="423.44" width="2.99" height="2.99" fill="#fff" stroke="#6aaa5a" stroke-width="0.8"/>
<rect x="80.50" y="407.55" width="2.99" height="2.99" fill="#fff" stroke="#6aaa5a" stroke-width="0.8"/>
<rect x="87.19" y="392.23" width="2.99" height="2.99" fill="#fff" stroke="#6aaa5a" stroke-width="0.8"/>
<rect x="92.98" y="385.13" width="2.99" height="2.99" fill="#fff" stroke="#6aaa5a" stroke-width="0.8"/>
<rect x="99.03" y="382.30" width="2.99" height="2.99" fill="#fff" stroke="#6aaa5a" stroke-width="0.8"/>
<line x1="186.00" y1="377.70" x2="193.50" y2="377.70" stroke="#6aaa5a" stroke-width="0.9"/>
<rect x="187.75" y="375.85" width="3.70" height="3.70" fill="#fff" stroke="#6aaa5a" stroke-width="0.8"/>
<text x="198.20" y="380.20" font-size="7.2" text-anchor="start" fill="#111111" textLength="29.60" lengthAdjust="spacingAndGlyphs" stroke="#111111" stroke-width="0.1">Lip-Ghost</text>
<line x1="186.00" y1="388.05" x2="193.50" y2="388.05" stroke="#b8323f" stroke-width="0.9"/>
<circle cx="189.60" cy="388.05" r="2.1" fill="#fff" stroke="#b8323f" stroke-width="0.8"/>
<text x="198.20" y="390.55" font-size="7.2" text-anchor="start" fill="#111111" textLength="19.50" lengthAdjust="spacingAndGlyphs" stroke="#111111" stroke-width="0.1">Lip-C6</text>
<line x1="186.00" y1="398.40" x2="193.50" y2="398.40" stroke="#6b3b6e" stroke-width="0.9"/>
<circle cx="189.60" cy="398.40" r="2.1" fill="#6b3b6e"/>
<text x="198.20" y="400.90" font-size="7.2" text-anchor="start" fill="#111111" textLength="7.60" lengthAdjust="spacingAndGlyphs" stroke="#111111" stroke-width="0.1">VB</text>
<line x1="186.00" y1="408.75" x2="193.50" y2="408.75" stroke="#3f6391" stroke-width="0.9"/>
<polygon points="189.60,406.23 192.12,408.75 189.60,411.27 187.08,408.75" fill="#3f6391"/>
<text x="198.20" y="411.25" font-size="7.2" text-anchor="start" fill="#111111" textLength="34.30" lengthAdjust="spacingAndGlyphs" stroke="#111111" stroke-width="0.1">Lip-C6 + VB</text>
<text x="256.30" y="369.20" font-size="10.5" text-anchor="start" fill="#111111" textLength="4.90" lengthAdjust="spacingAndGlyphs">F</text>
<text x="271.70" y="423.60" font-size="8.4" text-anchor="middle" fill="#111111" textLength="60.50" lengthAdjust="spacingAndGlyphs" transform="rotate(-90 271.70 423.60)" stroke="#111111" stroke-width="0.1">Percent survival</text>
<line x1="295.70" y1="372.90" x2="295.70" y2="476.20" stroke="#111111" stroke-width="1.0"/>
<line x1="293.10" y1="476.20" x2="295.70" y2="476.20" stroke="#111111" stroke-width="0.8"/>
<text x="289.60" y="478.70" font-size="7.0" text-anchor="end" fill="#111111" stroke="#111111" stroke-width="0.1">0</text>
<line x1="293.10" y1="450.75" x2="295.70" y2="450.75" stroke="#111111" stroke-width="0.8"/>
<text x="289.60" y="453.25" font-size="7.0" text-anchor="end" fill="#111111" stroke="#111111" stroke-width="0.1">25</text>
<line x1="293.10" y1="425.30" x2="295.70" y2="425.30" stroke="#111111" stroke-width="0.8"/>
<text x="289.60" y="427.80" font-size="7.0" text-anchor="end" fill="#111111" stroke="#111111" stroke-width="0.1">50</text>
<line x1="293.10" y1="399.85" x2="295.70" y2="399.85" stroke="#111111" stroke-width="0.8"/>
<text x="289.60" y="402.35" font-size="7.0" text-anchor="end" fill="#111111" stroke="#111111" stroke-width="0.1">75</text>
<line x1="293.10" y1="374.40" x2="295.70" y2="374.40" stroke="#111111" stroke-width="0.8"/>
<text x="289.60" y="376.90" font-size="7.0" text-anchor="end" fill="#111111" stroke="#111111" stroke-width="0.1">100</text>
<line x1="295.70" y1="476.20" x2="478.80" y2="476.20" stroke="#111111" stroke-width="1.0"/>
<line x1="295.90" y1="476.20" x2="295.90" y2="478.60" stroke="#111111" stroke-width="0.7"/>
<line x1="301.84" y1="476.20" x2="301.84" y2="477.70" stroke="#111111" stroke-width="0.7"/>
<line x1="307.78" y1="476.20" x2="307.78" y2="477.70" stroke="#111111" stroke-width="0.7"/>
<line x1="313.72" y1="476.20" x2="313.72" y2="477.70" stroke="#111111" stroke-width="0.7"/>
<line x1="319.66" y1="476.20" x2="319.66" y2="477.70" stroke="#111111" stroke-width="0.7"/>
<line x1="325.60" y1="476.20" x2="325.60" y2="478.60" stroke="#111111" stroke-width="0.7"/>
<line x1="331.54" y1="476.20" x2="331.54" y2="477.70" stroke="#111111" stroke-width="0.7"/>
<line x1="337.48" y1="476.20" x2="337.48" y2="477.70" stroke="#111111" stroke-width="0.7"/>
<line x1="343.42" y1="476.20" x2="343.42" y2="477.70" stroke="#111111" stroke-width="0.7"/>
<line x1="349.36" y1="476.20" x2="349.36" y2="477.70" stroke="#111111" stroke-width="0.7"/>
<line x1="355.30" y1="476.20" x2="355.30" y2="478.60" stroke="#111111" stroke-width="0.7"/>
<line x1="361.24" y1="476.20" x2="361.24" y2="477.70" stroke="#111111" stroke-width="0.7"/>
<line x1="367.18" y1="476.20" x2="367.18" y2="477.70" stroke="#111111" stroke-width="0.7"/>
<line x1="373.12" y1="476.20" x2="373.12" y2="477.70" stroke="#111111" stroke-width="0.7"/>
<line x1="379.06" y1="476.20" x2="379.06" y2="477.70" stroke="#111111" stroke-width="0.7"/>
<line x1="385.00" y1="476.20" x2="385.00" y2="478.60" stroke="#111111" stroke-width="0.7"/>
<line x1="390.94" y1="476.20" x2="390.94" y2="477.70" stroke="#111111" stroke-width="0.7"/>
<line x1="396.88" y1="476.20" x2="396.88" y2="477.70" stroke="#111111" stroke-width="0.7"/>
<line x1="402.82" y1="476.20" x2="402.82" y2="477.70" stroke="#111111" stroke-width="0.7"/>
<line x1="408.76" y1="476.20" x2="408.76" y2="477.70" stroke="#111111" stroke-width="0.7"/>
<line x1="414.70" y1="476.20" x2="414.70" y2="478.60" stroke="#111111" stroke-width="0.7"/>
<line x1="420.64" y1="476.20" x2="420.64" y2="477.70" stroke="#111111" stroke-width="0.7"/>
<line x1="426.58" y1="476.20" x2="426.58" y2="477.70" stroke="#111111" stroke-width="0.7"/>
<line x1="432.52" y1="476.20" x2="432.52" y2="477.70" stroke="#111111" stroke-width="0.7"/>
<line x1="438.46" y1="476.20" x2="438.46" y2="477.70" stroke="#111111" stroke-width="0.7"/>
<line x1="444.40" y1="476.20" x2="444.40" y2="478.60" stroke="#111111" stroke-width="0.7"/>
<line x1="450.34" y1="476.20" x2="450.34" y2="477.70" stroke="#111111" stroke-width="0.7"/>
<line x1="456.28" y1="476.20" x2="456.28" y2="477.70" stroke="#111111" stroke-width="0.7"/>
<line x1="462.22" y1="476.20" x2="462.22" y2="477.70" stroke="#111111" stroke-width="0.7"/>
<line x1="468.16" y1="476.20" x2="468.16" y2="477.70" stroke="#111111" stroke-width="0.7"/>
<line x1="474.10" y1="476.20" x2="474.10" y2="478.60" stroke="#111111" stroke-width="0.7"/>
<text x="295.90" y="489.20" font-size="6.8" text-anchor="middle" fill="#111111" stroke="#111111" stroke-width="0.1">0</text>
<text x="325.60" y="489.20" font-size="6.8" text-anchor="middle" fill="#111111" stroke="#111111" stroke-width="0.1">50</text>
<text x="355.30" y="489.20" font-size="6.8" text-anchor="middle" fill="#111111" stroke="#111111" stroke-width="0.1">100</text>
<text x="385.00" y="489.20" font-size="6.8" text-anchor="middle" fill="#111111" stroke="#111111" stroke-width="0.1">150</text>
<text x="414.70" y="489.20" font-size="6.8" text-anchor="middle" fill="#111111" stroke="#111111" stroke-width="0.1">200</text>
<text x="444.40" y="489.20" font-size="6.8" text-anchor="middle" fill="#111111" stroke="#111111" stroke-width="0.1">250</text>
<text x="474.10" y="489.20" font-size="6.8" text-anchor="middle" fill="#111111" stroke="#111111" stroke-width="0.1">300</text>
<text x="341.80" y="501.20" font-size="8.8" text-anchor="start" fill="#111111" textLength="89.50" lengthAdjust="spacingAndGlyphs" stroke="#111111" stroke-width="0.1">Days post-engraftment</text>
<text x="389.00" y="411.80" font-size="6.6" text-anchor="start" fill="#111111" textLength="31.40" lengthAdjust="spacingAndGlyphs" stroke="#111111" stroke-width="0.1">p = 0.0155</text>
<polyline points="296.20,374.40 354.71,374.40 354.71,391.40 455.09,391.40 455.09,419.60" fill="none" stroke="#3f6391" stroke-width="0.9" stroke-dasharray="3,2.4"/>
<polygon points="354.71,389.24 356.87,391.40 354.71,393.56 352.55,391.40" fill="#3f6391"/>
<polygon points="455.09,417.44 457.25,419.60 455.09,421.76 452.93,419.60" fill="#3f6391"/>
<polygon points="362.43,389.24 364.59,391.40 362.43,393.56 360.27,391.40" fill="#3f6391"/>
<polygon points="465.19,417.44 467.35,419.60 465.19,421.76 463.03,419.60" fill="#3f6391"/>
<polyline points="296.20,374.40 349.36,374.40 349.36,391.40 354.71,391.40 354.71,425.30 363.02,425.30 363.02,442.30 363.62,442.30 363.62,459.20 387.97,459.20 387.97,476.20" fill="none" stroke="#6b3b6e" stroke-width="0.9"/>
<circle cx="349.36" cy="391.40" r="1.8" fill="#6b3b6e"/>
<circle cx="354.71" cy="425.30" r="1.8" fill="#6b3b6e"/>
<circle cx="363.02" cy="442.30" r="1.8" fill="#6b3b6e"/>
<circle cx="363.62" cy="459.20" r="1.8" fill="#6b3b6e"/>
<circle cx="387.97" cy="476.20" r="1.8" fill="#6b3b6e"/>
<polyline points="296.20,374.40 325.01,374.40 325.01,425.30 327.98,425.30 327.98,442.30 329.76,442.30 329.76,476.20" fill="none" stroke="#b8323f" stroke-width="0.9" stroke-dasharray="2.5,1.7"/>
<circle cx="325.01" cy="425.30" r="1.8" fill="#fff" stroke="#b8323f" stroke-width="0.8"/>
<circle cx="327.98" cy="442.30" r="1.8" fill="#fff" stroke="#b8323f" stroke-width="0.8"/>
<circle cx="329.76" cy="476.20" r="1.8" fill="#fff" stroke="#b8323f" stroke-width="0.8"/>
<polyline points="296.20,374.40 325.90,374.40 325.90,408.30 327.68,408.30 327.68,425.30 332.43,425.30 332.43,442.30 334.51,442.30 334.51,459.20 336.89,459.20 336.89,476.20" fill="none" stroke="#6aaa5a" stroke-width="0.9"/>
<rect x="324.31" y="406.72" width="3.17" height="3.17" fill="#fff" stroke="#6aaa5a" stroke-width="0.8"/>
<rect x="326.09" y="423.72" width="3.17" height="3.17" fill="#fff" stroke="#6aaa5a" stroke-width="0.8"/>
<rect x="330.85" y="440.72" width="3.17" height="3.17" fill="#fff" stroke="#6aaa5a" stroke-width="0.8"/>
<rect x="332.93" y="457.62" width="3.17" height="3.17" fill="#fff" stroke="#6aaa5a" stroke-width="0.8"/>
<rect x="335.30" y="474.62" width="3.17" height="3.17" fill="#fff" stroke="#6aaa5a" stroke-width="0.8"/>
<circle cx="325.01" cy="425.30" r="1.8" fill="#fff" stroke="#b8323f" stroke-width="0.8"/>
<circle cx="327.98" cy="442.30" r="1.8" fill="#fff" stroke="#b8323f" stroke-width="0.8"/>
<circle cx="329.76" cy="476.20" r="1.8" fill="#fff" stroke="#b8323f" stroke-width="0.8"/>
<line x1="408.60" y1="435.10" x2="415.80" y2="435.10" stroke="#6aaa5a" stroke-width="1.0"/>
<rect x="410.18" y="433.08" width="4.05" height="4.05" fill="#fff" stroke="#6aaa5a" stroke-width="1.0"/>
<text x="420.90" y="437.60" font-size="7.2" text-anchor="start" fill="#111111" textLength="29.00" lengthAdjust="spacingAndGlyphs" stroke="#111111" stroke-width="0.1">Lip-Ghost</text>
<line x1="408.60" y1="445.50" x2="415.80" y2="445.50" stroke="#b8323f" stroke-width="1.0"/>
<circle cx="412.20" cy="445.50" r="2.3" fill="#fff" stroke="#b8323f" stroke-width="1.0"/>
<text x="420.90" y="448.00" font-size="7.2" text-anchor="start" fill="#111111" textLength="19.30" lengthAdjust="spacingAndGlyphs" stroke="#111111" stroke-width="0.1">Lip-C6</text>
<line x1="408.60" y1="455.90" x2="415.80" y2="455.90" stroke="#6b3b6e" stroke-width="1.0"/>
<circle cx="412.20" cy="455.90" r="2.3" fill="#6b3b6e"/>
<text x="420.90" y="458.40" font-size="7.2" text-anchor="start" fill="#111111" textLength="7.70" lengthAdjust="spacingAndGlyphs" stroke="#111111" stroke-width="0.1">VB</text>
<line x1="408.60" y1="466.30" x2="415.80" y2="466.30" stroke="#3f6391" stroke-width="1.0"/>
<polygon points="412.20,463.54 414.96,466.30 412.20,469.06 409.44,466.30" fill="#3f6391"/>
<text x="420.90" y="468.80" font-size="7.2" text-anchor="start" fill="#111111" textLength="34.50" lengthAdjust="spacingAndGlyphs" stroke="#111111" stroke-width="0.1">Lip-C6 + VB</text>
<rect x="0.75" y="0.75" width="518.5" height="509.5" fill="none" stroke="#3c3c3c" stroke-width="1.5"/>
</svg>
</body></html>
